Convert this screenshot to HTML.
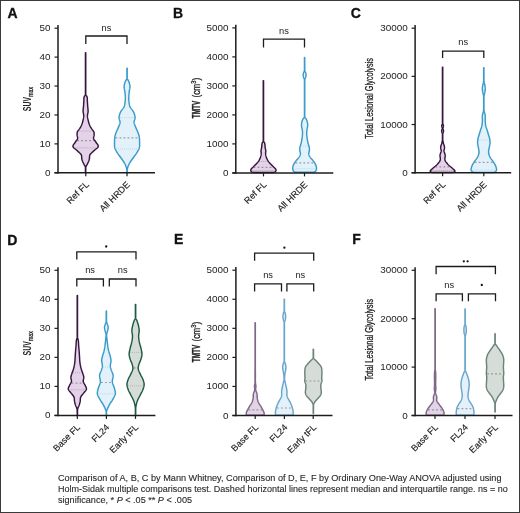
<!DOCTYPE html>
<html><head><meta charset="utf-8"><style>
html,body{margin:0;padding:0;background:#fff;}
svg{display:block;will-change:transform;}
text{font-family:"Liberation Sans",sans-serif;fill:#222;}
.tk{font-size:9.9px;}
.ns{font-size:9.3px;}
.st{font-size:9px;}
.xl{font-size:9.1px;stroke:#222;stroke-width:0.15px;}
.pl{font-size:14px;font-weight:bold;fill:#111;stroke:#111;stroke-width:0.3px;}
.yl{font-size:10px;stroke:#222;stroke-width:0.3px;}
.yl.b{font-weight:bold;}
.sub{font-size:7.5px;}
.sup{font-size:7px;}
.cap{font-size:9.1px;fill:#2b2b2b;stroke:#2b2b2b;stroke-width:0.12px;}
</style></head><body>
<svg width="520" height="513" viewBox="0 0 520 513">
<rect x="0" y="0" width="520" height="513" fill="#fff"/>
<path d="M85.75,52.80 L85.75,53.30 L85.75,53.79 L85.75,54.29 L85.75,54.78 L85.75,55.28 L85.75,55.77 L85.75,56.27 L85.75,56.76 L85.75,57.26 L85.75,57.75 L85.75,58.25 L85.75,58.74 L85.75,59.24 L85.75,59.73 L85.75,60.23 L85.75,60.72 L85.75,61.22 L85.75,61.71 L85.75,62.21 L85.75,62.70 L85.75,63.20 L85.75,63.70 L85.75,64.19 L85.75,64.69 L85.75,65.18 L85.75,65.68 L85.75,66.17 L85.75,66.67 L85.75,67.16 L85.75,67.66 L85.75,68.15 L85.75,68.65 L85.75,69.14 L85.75,69.64 L85.75,70.13 L85.75,70.63 L85.75,71.12 L85.75,71.62 L85.75,72.11 L85.75,72.61 L85.75,73.10 L85.75,73.60 L85.75,74.10 L85.75,74.59 L85.75,75.09 L85.75,75.58 L85.75,76.08 L85.75,76.57 L85.75,77.07 L85.75,77.56 L85.75,78.06 L85.75,78.55 L85.75,79.05 L85.75,79.54 L85.75,80.04 L85.75,80.53 L85.75,81.03 L85.75,81.52 L85.75,82.02 L85.75,82.51 L85.75,83.01 L85.75,83.50 L85.75,84.00 L85.75,84.50 L85.75,84.99 L85.75,85.49 L85.75,85.98 L85.75,86.48 L85.75,86.97 L85.75,87.47 L85.75,87.96 L85.75,88.46 L85.75,88.95 L85.75,89.45 L85.75,89.94 L85.75,90.44 L85.75,90.93 L85.75,91.43 L85.75,91.92 L85.75,92.42 L85.75,92.91 L85.75,93.41 L85.75,93.90 L85.75,94.40 L85.81,94.86 L86.12,95.32 L86.46,95.78 L86.78,96.24 L87.00,96.70 L87.14,97.19 L87.24,97.68 L87.29,98.17 L87.32,98.66 L87.33,99.14 L87.32,99.63 L87.32,100.12 L87.33,100.61 L87.35,101.10 L87.38,101.57 L87.42,102.05 L87.45,102.52 L87.48,102.99 L87.51,103.46 L87.54,103.94 L87.57,104.41 L87.60,104.88 L87.63,105.35 L87.67,105.83 L87.70,106.30 L87.74,106.77 L87.79,107.25 L87.84,107.72 L87.89,108.19 L87.94,108.66 L87.99,109.14 L88.04,109.61 L88.07,110.08 L88.10,110.55 L88.11,111.03 L88.10,111.50 L88.06,111.99 L88.00,112.48 L87.91,112.97 L87.80,113.46 L87.70,113.94 L87.60,114.43 L87.52,114.92 L87.47,115.41 L87.45,115.90 L87.47,116.40 L87.51,116.90 L87.57,117.40 L87.65,117.90 L87.75,118.40 L87.85,118.90 L87.97,119.40 L88.08,119.90 L88.20,120.40 L88.31,120.89 L88.43,121.38 L88.55,121.87 L88.68,122.36 L88.82,122.84 L88.97,123.33 L89.13,123.82 L89.31,124.31 L89.50,124.80 L89.69,125.25 L89.90,125.70 L90.12,126.15 L90.36,126.60 L90.60,127.05 L90.86,127.50 L91.13,127.95 L91.40,128.40 L91.73,128.89 L92.10,129.37 L92.50,129.86 L92.89,130.34 L93.25,130.83 L93.56,131.31 L93.80,131.80 L93.96,132.29 L94.06,132.77 L94.12,133.26 L94.14,133.74 L94.13,134.23 L94.12,134.71 L94.10,135.20 L94.05,135.69 L93.94,136.17 L93.80,136.66 L93.67,137.14 L93.57,137.63 L93.54,138.11 L93.60,138.60 L93.78,139.09 L94.05,139.57 L94.38,140.06 L94.75,140.54 L95.13,141.03 L95.49,141.51 L95.80,142.00 L96.10,142.48 L96.45,142.96 L96.81,143.44 L97.18,143.92 L97.52,144.40 L97.82,144.88 L98.06,145.36 L98.22,145.84 L98.27,146.32 L98.20,146.80 L97.95,147.29 L97.53,147.77 L96.98,148.26 L96.36,148.74 L95.70,149.23 L95.07,149.71 L94.50,150.20 L94.05,150.62 L93.60,151.04 L93.16,151.46 L92.73,151.88 L92.30,152.30 L91.80,152.78 L91.27,153.26 L90.77,153.74 L90.33,154.22 L90.00,154.70 L89.79,155.16 L89.66,155.61 L89.58,156.07 L89.54,156.52 L89.53,156.98 L89.53,157.43 L89.51,157.89 L89.48,158.34 L89.40,158.80 L89.28,159.28 L89.16,159.77 L89.01,160.25 L88.86,160.73 L88.69,161.22 L88.50,161.70 L88.29,162.18 L88.06,162.67 L87.81,163.15 L87.56,163.63 L87.30,164.12 L87.05,164.60 L86.78,165.08 L86.50,165.56 L86.22,166.04 L85.98,166.52 L85.80,167.00 L85.75,167.47 L85.75,167.95 L85.75,168.43 L85.75,168.90 L85.75,169.38 L85.75,169.85 L85.75,170.32 L85.75,170.80 L85.75,171.27 L85.75,171.75 L85.75,172.22 L85.75,172.70 L85.45,172.70 L85.45,172.22 L85.45,171.75 L85.45,171.27 L85.45,170.80 L85.45,170.32 L85.45,169.85 L85.45,169.38 L85.45,168.90 L85.45,168.43 L85.45,167.95 L85.45,167.47 L85.40,167.00 L85.22,166.52 L84.98,166.04 L84.70,165.56 L84.42,165.08 L84.15,164.60 L83.90,164.12 L83.64,163.63 L83.39,163.15 L83.14,162.67 L82.91,162.18 L82.70,161.70 L82.51,161.22 L82.34,160.73 L82.19,160.25 L82.04,159.77 L81.92,159.28 L81.80,158.80 L81.72,158.34 L81.69,157.89 L81.67,157.43 L81.67,156.98 L81.66,156.52 L81.62,156.07 L81.54,155.61 L81.41,155.16 L81.20,154.70 L80.87,154.22 L80.43,153.74 L79.93,153.26 L79.40,152.78 L78.90,152.30 L78.47,151.88 L78.04,151.46 L77.60,151.04 L77.15,150.62 L76.70,150.20 L76.13,149.71 L75.50,149.23 L74.84,148.74 L74.22,148.26 L73.67,147.77 L73.25,147.29 L73.00,146.80 L72.93,146.32 L72.98,145.84 L73.14,145.36 L73.38,144.88 L73.68,144.40 L74.02,143.92 L74.39,143.44 L74.75,142.96 L75.10,142.48 L75.40,142.00 L75.71,141.51 L76.07,141.03 L76.45,140.54 L76.82,140.06 L77.15,139.57 L77.42,139.09 L77.60,138.60 L77.66,138.11 L77.63,137.63 L77.53,137.14 L77.40,136.66 L77.26,136.17 L77.15,135.69 L77.10,135.20 L77.08,134.71 L77.07,134.23 L77.06,133.74 L77.08,133.26 L77.14,132.77 L77.24,132.29 L77.40,131.80 L77.64,131.31 L77.95,130.83 L78.31,130.34 L78.70,129.86 L79.10,129.37 L79.47,128.89 L79.80,128.40 L80.07,127.95 L80.34,127.50 L80.60,127.05 L80.84,126.60 L81.08,126.15 L81.30,125.70 L81.51,125.25 L81.70,124.80 L81.89,124.31 L82.07,123.82 L82.23,123.33 L82.38,122.84 L82.52,122.36 L82.65,121.87 L82.77,121.38 L82.89,120.89 L83.00,120.40 L83.12,119.90 L83.23,119.40 L83.35,118.90 L83.45,118.40 L83.55,117.90 L83.63,117.40 L83.69,116.90 L83.73,116.40 L83.75,115.90 L83.73,115.41 L83.68,114.92 L83.60,114.43 L83.50,113.94 L83.40,113.46 L83.29,112.97 L83.20,112.48 L83.14,111.99 L83.10,111.50 L83.09,111.03 L83.10,110.55 L83.13,110.08 L83.16,109.61 L83.21,109.14 L83.26,108.66 L83.31,108.19 L83.36,107.72 L83.41,107.25 L83.46,106.77 L83.50,106.30 L83.53,105.83 L83.57,105.35 L83.60,104.88 L83.63,104.41 L83.66,103.94 L83.69,103.46 L83.72,102.99 L83.75,102.52 L83.78,102.05 L83.82,101.57 L83.85,101.10 L83.87,100.61 L83.88,100.12 L83.88,99.63 L83.87,99.14 L83.88,98.66 L83.91,98.17 L83.96,97.68 L84.06,97.19 L84.20,96.70 L84.42,96.24 L84.74,95.78 L85.08,95.32 L85.39,94.86 L85.45,94.40 L85.45,93.90 L85.45,93.41 L85.45,92.91 L85.45,92.42 L85.45,91.92 L85.45,91.43 L85.45,90.93 L85.45,90.44 L85.45,89.94 L85.45,89.45 L85.45,88.95 L85.45,88.46 L85.45,87.96 L85.45,87.47 L85.45,86.97 L85.45,86.48 L85.45,85.98 L85.45,85.49 L85.45,84.99 L85.45,84.50 L85.45,84.00 L85.45,83.50 L85.45,83.01 L85.45,82.51 L85.45,82.02 L85.45,81.52 L85.45,81.03 L85.45,80.53 L85.45,80.04 L85.45,79.54 L85.45,79.05 L85.45,78.55 L85.45,78.06 L85.45,77.56 L85.45,77.07 L85.45,76.57 L85.45,76.08 L85.45,75.58 L85.45,75.09 L85.45,74.59 L85.45,74.10 L85.45,73.60 L85.45,73.10 L85.45,72.61 L85.45,72.11 L85.45,71.62 L85.45,71.12 L85.45,70.63 L85.45,70.13 L85.45,69.64 L85.45,69.14 L85.45,68.65 L85.45,68.15 L85.45,67.66 L85.45,67.16 L85.45,66.67 L85.45,66.17 L85.45,65.68 L85.45,65.18 L85.45,64.69 L85.45,64.19 L85.45,63.70 L85.45,63.20 L85.45,62.70 L85.45,62.21 L85.45,61.71 L85.45,61.22 L85.45,60.72 L85.45,60.23 L85.45,59.73 L85.45,59.24 L85.45,58.74 L85.45,58.25 L85.45,57.75 L85.45,57.26 L85.45,56.76 L85.45,56.27 L85.45,55.77 L85.45,55.28 L85.45,54.78 L85.45,54.29 L85.45,53.79 L85.45,53.30 L85.45,52.80 Z" fill="#e4d3e8" stroke="#371540" stroke-width="1.45" stroke-linejoin="round"/>
<line x1="78.58" y1="131.1" x2="92.62" y2="131.1" stroke="#371540" stroke-opacity="0.3" stroke-width="0.8" stroke-dasharray="1 1"/>
<line x1="77.21" y1="140.6" x2="93.99" y2="140.6" stroke="#666" stroke-opacity="0.6" stroke-width="1.2" stroke-dasharray="1.8 2.2"/>
<line x1="74.61" y1="147.9" x2="96.59" y2="147.9" stroke="#371540" stroke-opacity="0.3" stroke-width="0.8" stroke-dasharray="1 1"/>
<path d="M127.20,68.10 L127.20,68.60 L127.20,69.10 L127.20,69.60 L127.20,70.10 L127.20,70.60 L127.20,71.10 L127.20,71.60 L127.20,72.10 L127.20,72.60 L127.20,73.10 L127.20,73.60 L127.20,74.10 L127.20,74.60 L127.20,75.10 L127.20,75.60 L127.20,76.10 L127.20,76.60 L127.20,77.10 L127.20,77.60 L127.20,78.10 L127.20,78.56 L127.41,79.02 L127.66,79.49 L127.93,79.95 L128.20,80.41 L128.47,80.88 L128.71,81.34 L128.90,81.80 L129.06,82.27 L129.22,82.75 L129.36,83.22 L129.49,83.69 L129.61,84.16 L129.72,84.64 L129.81,85.11 L129.88,85.58 L129.94,86.05 L129.98,86.53 L130.00,87.00 L129.99,87.49 L129.94,87.98 L129.86,88.47 L129.76,88.96 L129.65,89.44 L129.54,89.93 L129.43,90.42 L129.33,90.91 L129.25,91.40 L129.19,91.86 L129.14,92.33 L129.09,92.79 L129.05,93.25 L129.01,93.71 L128.97,94.17 L128.93,94.64 L128.90,95.10 L128.86,95.58 L128.83,96.07 L128.80,96.55 L128.77,97.03 L128.75,97.52 L128.75,98.00 L128.76,98.49 L128.77,98.98 L128.79,99.47 L128.81,99.96 L128.84,100.44 L128.88,100.93 L128.93,101.42 L128.98,101.91 L129.05,102.40 L129.12,102.90 L129.18,103.40 L129.25,103.90 L129.33,104.40 L129.42,104.90 L129.53,105.40 L129.67,105.90 L129.84,106.40 L130.05,106.90 L130.31,107.39 L130.62,107.88 L130.98,108.37 L131.36,108.86 L131.75,109.34 L132.14,109.83 L132.52,110.32 L132.86,110.81 L133.15,111.30 L133.41,111.80 L133.65,112.30 L133.87,112.80 L134.08,113.30 L134.26,113.80 L134.43,114.30 L134.59,114.80 L134.73,115.30 L134.85,115.80 L134.94,116.24 L135.01,116.68 L135.05,117.12 L135.06,117.56 L135.05,118.00 L134.99,118.49 L134.87,118.98 L134.73,119.47 L134.57,119.96 L134.40,120.44 L134.25,120.93 L134.13,121.42 L134.06,121.91 L134.05,122.40 L134.10,122.90 L134.21,123.40 L134.35,123.90 L134.52,124.40 L134.71,124.90 L134.92,125.40 L135.14,125.90 L135.35,126.40 L135.55,126.90 L135.74,127.39 L135.95,127.88 L136.16,128.37 L136.38,128.86 L136.60,129.34 L136.83,129.83 L137.04,130.32 L137.25,130.81 L137.45,131.30 L137.65,131.80 L137.85,132.30 L138.05,132.80 L138.25,133.30 L138.44,133.80 L138.62,134.30 L138.78,134.80 L138.93,135.30 L139.05,135.80 L139.15,136.30 L139.24,136.80 L139.31,137.30 L139.38,137.80 L139.43,138.30 L139.47,138.80 L139.51,139.30 L139.54,139.80 L139.56,140.30 L139.57,140.80 L139.58,141.30 L139.59,141.80 L139.60,142.30 L139.60,142.80 L139.61,143.28 L139.62,143.76 L139.63,144.25 L139.63,144.73 L139.63,145.21 L139.62,145.69 L139.59,146.17 L139.54,146.65 L139.47,147.14 L139.38,147.62 L139.25,148.10 L139.08,148.60 L138.88,149.10 L138.65,149.60 L138.39,150.10 L138.11,150.60 L137.82,151.10 L137.52,151.60 L137.21,152.10 L136.90,152.60 L136.59,153.09 L136.27,153.58 L135.93,154.07 L135.59,154.56 L135.24,155.05 L134.88,155.55 L134.52,156.04 L134.16,156.53 L133.80,157.02 L133.45,157.51 L133.10,158.00 L132.74,158.50 L132.38,159.00 L132.01,159.50 L131.65,160.00 L131.28,160.50 L130.93,161.00 L130.58,161.50 L130.26,162.00 L129.95,162.50 L129.66,163.00 L129.39,163.50 L129.13,164.00 L128.89,164.50 L128.67,165.00 L128.45,165.50 L128.25,166.00 L128.08,166.45 L127.93,166.90 L127.78,167.35 L127.66,167.80 L127.55,168.25 L127.45,168.70 L127.36,169.20 L127.29,169.70 L127.24,170.20 L127.20,170.70 L127.20,171.20 L127.20,171.70 L127.20,172.20 L127.20,172.70 L126.90,172.70 L126.90,172.20 L126.90,171.70 L126.90,171.20 L126.90,170.70 L126.86,170.20 L126.81,169.70 L126.74,169.20 L126.65,168.70 L126.55,168.25 L126.44,167.80 L126.32,167.35 L126.17,166.90 L126.02,166.45 L125.85,166.00 L125.65,165.50 L125.43,165.00 L125.21,164.50 L124.97,164.00 L124.71,163.50 L124.44,163.00 L124.15,162.50 L123.84,162.00 L123.52,161.50 L123.17,161.00 L122.82,160.50 L122.45,160.00 L122.09,159.50 L121.72,159.00 L121.36,158.50 L121.00,158.00 L120.65,157.51 L120.30,157.02 L119.94,156.53 L119.58,156.04 L119.22,155.55 L118.86,155.05 L118.51,154.56 L118.17,154.07 L117.83,153.58 L117.51,153.09 L117.20,152.60 L116.89,152.10 L116.58,151.60 L116.28,151.10 L115.99,150.60 L115.71,150.10 L115.45,149.60 L115.22,149.10 L115.02,148.60 L114.85,148.10 L114.72,147.62 L114.63,147.14 L114.56,146.65 L114.51,146.17 L114.48,145.69 L114.47,145.21 L114.47,144.73 L114.47,144.25 L114.48,143.76 L114.49,143.28 L114.50,142.80 L114.50,142.30 L114.51,141.80 L114.52,141.30 L114.53,140.80 L114.54,140.30 L114.56,139.80 L114.59,139.30 L114.63,138.80 L114.67,138.30 L114.72,137.80 L114.79,137.30 L114.86,136.80 L114.95,136.30 L115.05,135.80 L115.17,135.30 L115.32,134.80 L115.48,134.30 L115.66,133.80 L115.85,133.30 L116.05,132.80 L116.25,132.30 L116.45,131.80 L116.65,131.30 L116.85,130.81 L117.06,130.32 L117.27,129.83 L117.50,129.34 L117.72,128.86 L117.94,128.37 L118.15,127.88 L118.36,127.39 L118.55,126.90 L118.75,126.40 L118.96,125.90 L119.18,125.40 L119.39,124.90 L119.58,124.40 L119.75,123.90 L119.89,123.40 L120.00,122.90 L120.05,122.40 L120.04,121.91 L119.97,121.42 L119.85,120.93 L119.70,120.44 L119.53,119.96 L119.37,119.47 L119.23,118.98 L119.11,118.49 L119.05,118.00 L119.04,117.56 L119.05,117.12 L119.09,116.68 L119.16,116.24 L119.25,115.80 L119.37,115.30 L119.51,114.80 L119.67,114.30 L119.84,113.80 L120.02,113.30 L120.23,112.80 L120.45,112.30 L120.69,111.80 L120.95,111.30 L121.24,110.81 L121.58,110.32 L121.96,109.83 L122.35,109.34 L122.74,108.86 L123.12,108.37 L123.48,107.88 L123.79,107.39 L124.05,106.90 L124.26,106.40 L124.43,105.90 L124.57,105.40 L124.68,104.90 L124.77,104.40 L124.85,103.90 L124.92,103.40 L124.98,102.90 L125.05,102.40 L125.12,101.91 L125.17,101.42 L125.22,100.93 L125.26,100.44 L125.29,99.96 L125.31,99.47 L125.33,98.98 L125.34,98.49 L125.35,98.00 L125.35,97.52 L125.33,97.03 L125.30,96.55 L125.27,96.07 L125.24,95.58 L125.20,95.10 L125.17,94.64 L125.13,94.17 L125.09,93.71 L125.05,93.25 L125.01,92.79 L124.96,92.33 L124.91,91.86 L124.85,91.40 L124.77,90.91 L124.67,90.42 L124.56,89.93 L124.45,89.44 L124.34,88.96 L124.24,88.47 L124.16,87.98 L124.11,87.49 L124.10,87.00 L124.12,86.53 L124.16,86.05 L124.22,85.58 L124.29,85.11 L124.38,84.64 L124.49,84.16 L124.61,83.69 L124.74,83.22 L124.88,82.75 L125.04,82.27 L125.20,81.80 L125.39,81.34 L125.63,80.88 L125.90,80.41 L126.17,79.95 L126.44,79.49 L126.69,79.02 L126.90,78.56 L126.90,78.10 L126.90,77.60 L126.90,77.10 L126.90,76.60 L126.90,76.10 L126.90,75.60 L126.90,75.10 L126.90,74.60 L126.90,74.10 L126.90,73.60 L126.90,73.10 L126.90,72.60 L126.90,72.10 L126.90,71.60 L126.90,71.10 L126.90,70.60 L126.90,70.10 L126.90,69.60 L126.90,69.10 L126.90,68.60 L126.90,68.10 Z" fill="#e2f1fa" stroke="#3a9ccb" stroke-width="1.45" stroke-linejoin="round"/>
<line x1="119.84" y1="117.6" x2="134.26" y2="117.6" stroke="#3a9ccb" stroke-opacity="0.3" stroke-width="0.8" stroke-dasharray="1 1"/>
<line x1="115.52" y1="137.8" x2="138.58" y2="137.8" stroke="#666" stroke-opacity="0.6" stroke-width="1.2" stroke-dasharray="1.8 2.2"/>
<line x1="115.98" y1="149" x2="138.12" y2="149" stroke="#3a9ccb" stroke-opacity="0.3" stroke-width="0.8" stroke-dasharray="1 1"/>
<path d="M263.55,80.60 L263.55,81.10 L263.55,81.60 L263.55,82.10 L263.55,82.60 L263.55,83.10 L263.55,83.60 L263.55,84.10 L263.55,84.60 L263.55,85.10 L263.55,85.60 L263.55,86.10 L263.55,86.60 L263.55,87.10 L263.55,87.60 L263.55,88.10 L263.55,88.60 L263.55,89.10 L263.55,89.60 L263.55,90.10 L263.55,90.60 L263.55,91.10 L263.55,91.60 L263.55,92.10 L263.55,92.60 L263.55,93.10 L263.55,93.60 L263.55,94.10 L263.55,94.60 L263.55,95.10 L263.55,95.60 L263.55,96.10 L263.55,96.60 L263.55,97.10 L263.55,97.60 L263.55,98.10 L263.55,98.60 L263.55,99.10 L263.55,99.60 L263.55,100.10 L263.55,100.60 L263.55,101.10 L263.55,101.60 L263.55,102.10 L263.55,102.60 L263.55,103.10 L263.55,103.60 L263.55,104.10 L263.55,104.60 L263.55,105.10 L263.55,105.60 L263.55,106.10 L263.55,106.60 L263.55,107.10 L263.55,107.60 L263.55,108.10 L263.55,108.60 L263.55,109.10 L263.55,109.60 L263.55,110.10 L263.55,110.60 L263.55,111.10 L263.55,111.60 L263.55,112.10 L263.55,112.60 L263.55,113.10 L263.55,113.60 L263.55,114.10 L263.55,114.60 L263.55,115.10 L263.55,115.60 L263.55,116.10 L263.55,116.60 L263.55,117.10 L263.55,117.60 L263.55,118.10 L263.55,118.60 L263.55,119.10 L263.55,119.60 L263.55,120.10 L263.55,120.60 L263.55,121.10 L263.55,121.60 L263.55,122.10 L263.55,122.60 L263.55,123.10 L263.55,123.60 L263.55,124.10 L263.55,124.60 L263.55,125.10 L263.55,125.60 L263.55,126.10 L263.55,126.60 L263.55,127.10 L263.55,127.60 L263.55,128.10 L263.55,128.60 L263.55,129.10 L263.55,129.60 L263.55,130.10 L263.55,130.60 L263.55,131.10 L263.55,131.60 L263.55,132.10 L263.55,132.60 L263.55,133.10 L263.55,133.60 L263.55,134.10 L263.55,134.60 L263.55,135.10 L263.55,135.60 L263.55,136.10 L263.55,136.60 L263.55,137.10 L263.55,137.60 L263.55,138.10 L263.55,138.60 L263.55,139.10 L263.55,139.60 L263.55,140.10 L263.55,140.60 L263.58,141.08 L263.84,141.56 L264.13,142.04 L264.40,142.52 L264.60,143.00 L264.73,143.48 L264.83,143.96 L264.90,144.44 L264.96,144.92 L264.99,145.40 L265.02,145.88 L265.05,146.36 L265.09,146.84 L265.14,147.32 L265.20,147.80 L265.28,148.26 L265.38,148.71 L265.49,149.17 L265.59,149.63 L265.69,150.09 L265.76,150.54 L265.80,151.00 L265.79,151.48 L265.73,151.96 L265.66,152.44 L265.61,152.92 L265.60,153.40 L265.64,153.90 L265.69,154.40 L265.76,154.90 L265.85,155.40 L265.96,155.90 L266.09,156.40 L266.23,156.90 L266.40,157.40 L266.58,157.90 L266.78,158.40 L267.00,158.90 L267.23,159.40 L267.49,159.90 L267.77,160.40 L268.07,160.90 L268.40,161.40 L268.73,161.86 L269.10,162.31 L269.50,162.77 L269.91,163.23 L270.34,163.69 L270.77,164.14 L271.20,164.60 L271.66,165.08 L272.14,165.56 L272.63,166.04 L273.12,166.52 L273.60,167.00 L274.14,167.50 L274.69,168.00 L275.21,168.50 L275.60,169.00 L275.82,169.40 L275.97,169.80 L276.03,170.20 L276.00,170.60 L275.88,171.00 L275.64,171.40 L275.20,171.80 L274.61,172.10 L273.90,172.40 L252.90,172.40 L252.19,172.10 L251.60,171.80 L251.16,171.40 L250.92,171.00 L250.80,170.60 L250.77,170.20 L250.83,169.80 L250.98,169.40 L251.20,169.00 L251.59,168.50 L252.11,168.00 L252.66,167.50 L253.20,167.00 L253.68,166.52 L254.17,166.04 L254.66,165.56 L255.14,165.08 L255.60,164.60 L256.03,164.14 L256.46,163.69 L256.89,163.23 L257.30,162.77 L257.70,162.31 L258.07,161.86 L258.40,161.40 L258.73,160.90 L259.03,160.40 L259.31,159.90 L259.57,159.40 L259.80,158.90 L260.02,158.40 L260.22,157.90 L260.40,157.40 L260.57,156.90 L260.71,156.40 L260.84,155.90 L260.95,155.40 L261.04,154.90 L261.11,154.40 L261.16,153.90 L261.20,153.40 L261.19,152.92 L261.14,152.44 L261.07,151.96 L261.01,151.48 L261.00,151.00 L261.04,150.54 L261.11,150.09 L261.21,149.63 L261.31,149.17 L261.42,148.71 L261.52,148.26 L261.60,147.80 L261.66,147.32 L261.71,146.84 L261.75,146.36 L261.78,145.88 L261.81,145.40 L261.84,144.92 L261.90,144.44 L261.97,143.96 L262.07,143.48 L262.20,143.00 L262.40,142.52 L262.67,142.04 L262.96,141.56 L263.22,141.08 L263.25,140.60 L263.25,140.10 L263.25,139.60 L263.25,139.10 L263.25,138.60 L263.25,138.10 L263.25,137.60 L263.25,137.10 L263.25,136.60 L263.25,136.10 L263.25,135.60 L263.25,135.10 L263.25,134.60 L263.25,134.10 L263.25,133.60 L263.25,133.10 L263.25,132.60 L263.25,132.10 L263.25,131.60 L263.25,131.10 L263.25,130.60 L263.25,130.10 L263.25,129.60 L263.25,129.10 L263.25,128.60 L263.25,128.10 L263.25,127.60 L263.25,127.10 L263.25,126.60 L263.25,126.10 L263.25,125.60 L263.25,125.10 L263.25,124.60 L263.25,124.10 L263.25,123.60 L263.25,123.10 L263.25,122.60 L263.25,122.10 L263.25,121.60 L263.25,121.10 L263.25,120.60 L263.25,120.10 L263.25,119.60 L263.25,119.10 L263.25,118.60 L263.25,118.10 L263.25,117.60 L263.25,117.10 L263.25,116.60 L263.25,116.10 L263.25,115.60 L263.25,115.10 L263.25,114.60 L263.25,114.10 L263.25,113.60 L263.25,113.10 L263.25,112.60 L263.25,112.10 L263.25,111.60 L263.25,111.10 L263.25,110.60 L263.25,110.10 L263.25,109.60 L263.25,109.10 L263.25,108.60 L263.25,108.10 L263.25,107.60 L263.25,107.10 L263.25,106.60 L263.25,106.10 L263.25,105.60 L263.25,105.10 L263.25,104.60 L263.25,104.10 L263.25,103.60 L263.25,103.10 L263.25,102.60 L263.25,102.10 L263.25,101.60 L263.25,101.10 L263.25,100.60 L263.25,100.10 L263.25,99.60 L263.25,99.10 L263.25,98.60 L263.25,98.10 L263.25,97.60 L263.25,97.10 L263.25,96.60 L263.25,96.10 L263.25,95.60 L263.25,95.10 L263.25,94.60 L263.25,94.10 L263.25,93.60 L263.25,93.10 L263.25,92.60 L263.25,92.10 L263.25,91.60 L263.25,91.10 L263.25,90.60 L263.25,90.10 L263.25,89.60 L263.25,89.10 L263.25,88.60 L263.25,88.10 L263.25,87.60 L263.25,87.10 L263.25,86.60 L263.25,86.10 L263.25,85.60 L263.25,85.10 L263.25,84.60 L263.25,84.10 L263.25,83.60 L263.25,83.10 L263.25,82.60 L263.25,82.10 L263.25,81.60 L263.25,81.10 L263.25,80.60 Z" fill="#e4d3e8" stroke="#371540" stroke-width="1.45" stroke-linejoin="round"/>
<line x1="259.13" y1="161.5" x2="267.67" y2="161.5" stroke="#371540" stroke-opacity="0.3" stroke-width="0.8" stroke-dasharray="1 1"/>
<line x1="253.57" y1="167.4" x2="273.23" y2="167.4" stroke="#666" stroke-opacity="0.6" stroke-width="1.2" stroke-dasharray="1.8 2.2"/>
<line x1="251.60" y1="170.6" x2="275.20" y2="170.6" stroke="#371540" stroke-opacity="0.3" stroke-width="0.8" stroke-dasharray="1 1"/>
<path d="M304.75,57.40 L304.75,57.88 L304.75,58.36 L304.75,58.84 L304.75,59.33 L304.75,59.81 L304.75,60.29 L304.75,60.77 L304.75,61.25 L304.75,61.73 L304.75,62.21 L304.75,62.70 L304.75,63.18 L304.75,63.66 L304.75,64.14 L304.75,64.62 L304.75,65.10 L304.75,65.59 L304.75,66.07 L304.75,66.55 L304.75,67.03 L304.75,67.51 L304.75,67.99 L304.75,68.47 L304.75,68.96 L304.75,69.44 L304.75,69.92 L304.75,70.40 L304.75,70.82 L304.96,71.24 L305.20,71.66 L305.43,72.08 L305.60,72.50 L305.72,72.93 L305.83,73.37 L305.90,73.80 L305.96,74.23 L305.99,74.67 L306.00,75.10 L305.98,75.58 L305.92,76.06 L305.84,76.54 L305.73,77.02 L305.60,77.50 L305.42,77.98 L305.20,78.46 L304.96,78.94 L304.75,79.42 L304.75,79.90 L304.75,80.40 L304.75,80.90 L304.75,81.40 L304.75,81.89 L304.75,82.39 L304.75,82.89 L304.75,83.39 L304.75,83.89 L304.75,84.39 L304.75,84.89 L304.75,85.39 L304.75,85.88 L304.75,86.38 L304.75,86.88 L304.75,87.38 L304.75,87.88 L304.75,88.38 L304.75,88.88 L304.75,89.37 L304.75,89.87 L304.75,90.37 L304.75,90.87 L304.75,91.37 L304.75,91.87 L304.75,92.37 L304.75,92.86 L304.75,93.36 L304.75,93.86 L304.75,94.36 L304.75,94.86 L304.75,95.36 L304.75,95.86 L304.75,96.36 L304.75,96.85 L304.75,97.35 L304.75,97.85 L304.75,98.35 L304.75,98.85 L304.75,99.35 L304.75,99.85 L304.75,100.34 L304.75,100.84 L304.75,101.34 L304.75,101.84 L304.75,102.34 L304.75,102.84 L304.75,103.34 L304.75,103.84 L304.75,104.33 L304.75,104.83 L304.75,105.33 L304.75,105.83 L304.75,106.33 L304.75,106.83 L304.75,107.33 L304.75,107.82 L304.75,108.32 L304.75,108.82 L304.75,109.32 L304.75,109.82 L304.75,110.32 L304.75,110.82 L304.75,111.31 L304.75,111.81 L304.75,112.31 L304.75,112.81 L304.75,113.31 L304.75,113.81 L304.75,114.31 L304.75,114.81 L304.75,115.30 L304.75,115.80 L304.75,116.30 L304.75,116.80 L304.82,117.22 L305.14,117.65 L305.49,118.08 L305.80,118.50 L306.08,118.92 L306.35,119.35 L306.60,119.78 L306.80,120.20 L306.98,120.67 L307.12,121.13 L307.24,121.60 L307.34,122.07 L307.42,122.53 L307.50,123.00 L307.57,123.45 L307.63,123.90 L307.67,124.35 L307.70,124.80 L307.71,125.25 L307.70,125.70 L307.66,126.12 L307.58,126.54 L307.49,126.96 L307.39,127.38 L307.30,127.80 L307.22,128.20 L307.13,128.60 L307.04,129.00 L306.96,129.40 L306.90,129.80 L306.85,130.26 L306.80,130.71 L306.76,131.17 L306.73,131.62 L306.71,132.08 L306.70,132.53 L306.69,132.99 L306.69,133.44 L306.70,133.90 L306.72,134.37 L306.75,134.84 L306.78,135.31 L306.83,135.78 L306.88,136.25 L306.93,136.72 L306.99,137.19 L307.06,137.66 L307.13,138.13 L307.20,138.60 L307.28,139.10 L307.36,139.60 L307.45,140.10 L307.54,140.60 L307.63,141.10 L307.73,141.60 L307.83,142.10 L307.94,142.60 L308.06,143.10 L308.18,143.60 L308.30,144.10 L308.44,144.58 L308.60,145.07 L308.78,145.55 L308.94,146.03 L309.09,146.52 L309.20,147.00 L309.28,147.50 L309.35,148.00 L309.39,148.50 L309.42,149.00 L309.43,149.50 L309.42,150.00 L309.40,150.50 L309.34,151.00 L309.22,151.50 L309.09,152.00 L308.95,152.50 L308.84,153.00 L308.78,153.50 L308.80,154.00 L308.88,154.45 L309.01,154.90 L309.17,155.35 L309.37,155.80 L309.59,156.25 L309.84,156.70 L310.11,157.15 L310.40,157.60 L310.76,158.10 L311.18,158.60 L311.63,159.10 L312.09,159.60 L312.56,160.10 L313.00,160.60 L313.40,161.10 L313.77,161.60 L314.12,162.10 L314.47,162.60 L314.79,163.10 L315.09,163.60 L315.36,164.10 L315.60,164.60 L315.81,165.10 L316.00,165.60 L316.17,166.10 L316.31,166.60 L316.41,167.10 L316.48,167.60 L316.50,168.10 L316.50,168.57 L316.47,169.03 L316.41,169.50 L316.29,169.97 L316.09,170.43 L315.80,170.90 L315.33,171.37 L314.72,171.83 L314.10,172.30 L295.10,172.30 L294.48,171.83 L293.87,171.37 L293.40,170.90 L293.11,170.43 L292.91,169.97 L292.79,169.50 L292.73,169.03 L292.70,168.57 L292.70,168.10 L292.72,167.60 L292.79,167.10 L292.89,166.60 L293.03,166.10 L293.20,165.60 L293.39,165.10 L293.60,164.60 L293.84,164.10 L294.11,163.60 L294.41,163.10 L294.73,162.60 L295.08,162.10 L295.43,161.60 L295.80,161.10 L296.20,160.60 L296.64,160.10 L297.11,159.60 L297.57,159.10 L298.02,158.60 L298.44,158.10 L298.80,157.60 L299.09,157.15 L299.36,156.70 L299.61,156.25 L299.83,155.80 L300.03,155.35 L300.19,154.90 L300.32,154.45 L300.40,154.00 L300.42,153.50 L300.36,153.00 L300.25,152.50 L300.11,152.00 L299.98,151.50 L299.86,151.00 L299.80,150.50 L299.78,150.00 L299.77,149.50 L299.78,149.00 L299.81,148.50 L299.85,148.00 L299.92,147.50 L300.00,147.00 L300.11,146.52 L300.26,146.03 L300.42,145.55 L300.60,145.07 L300.76,144.58 L300.90,144.10 L301.02,143.60 L301.14,143.10 L301.26,142.60 L301.37,142.10 L301.47,141.60 L301.57,141.10 L301.66,140.60 L301.75,140.10 L301.84,139.60 L301.92,139.10 L302.00,138.60 L302.07,138.13 L302.14,137.66 L302.21,137.19 L302.27,136.72 L302.32,136.25 L302.37,135.78 L302.42,135.31 L302.45,134.84 L302.48,134.37 L302.50,133.90 L302.51,133.44 L302.51,132.99 L302.50,132.53 L302.49,132.08 L302.47,131.62 L302.44,131.17 L302.40,130.71 L302.35,130.26 L302.30,129.80 L302.24,129.40 L302.16,129.00 L302.07,128.60 L301.98,128.20 L301.90,127.80 L301.81,127.38 L301.71,126.96 L301.62,126.54 L301.54,126.12 L301.50,125.70 L301.49,125.25 L301.50,124.80 L301.53,124.35 L301.57,123.90 L301.63,123.45 L301.70,123.00 L301.78,122.53 L301.86,122.07 L301.96,121.60 L302.08,121.13 L302.22,120.67 L302.40,120.20 L302.60,119.78 L302.85,119.35 L303.12,118.92 L303.40,118.50 L303.71,118.08 L304.06,117.65 L304.38,117.22 L304.45,116.80 L304.45,116.30 L304.45,115.80 L304.45,115.30 L304.45,114.81 L304.45,114.31 L304.45,113.81 L304.45,113.31 L304.45,112.81 L304.45,112.31 L304.45,111.81 L304.45,111.31 L304.45,110.82 L304.45,110.32 L304.45,109.82 L304.45,109.32 L304.45,108.82 L304.45,108.32 L304.45,107.82 L304.45,107.33 L304.45,106.83 L304.45,106.33 L304.45,105.83 L304.45,105.33 L304.45,104.83 L304.45,104.33 L304.45,103.84 L304.45,103.34 L304.45,102.84 L304.45,102.34 L304.45,101.84 L304.45,101.34 L304.45,100.84 L304.45,100.34 L304.45,99.85 L304.45,99.35 L304.45,98.85 L304.45,98.35 L304.45,97.85 L304.45,97.35 L304.45,96.85 L304.45,96.36 L304.45,95.86 L304.45,95.36 L304.45,94.86 L304.45,94.36 L304.45,93.86 L304.45,93.36 L304.45,92.86 L304.45,92.37 L304.45,91.87 L304.45,91.37 L304.45,90.87 L304.45,90.37 L304.45,89.87 L304.45,89.37 L304.45,88.88 L304.45,88.38 L304.45,87.88 L304.45,87.38 L304.45,86.88 L304.45,86.38 L304.45,85.88 L304.45,85.39 L304.45,84.89 L304.45,84.39 L304.45,83.89 L304.45,83.39 L304.45,82.89 L304.45,82.39 L304.45,81.89 L304.45,81.40 L304.45,80.90 L304.45,80.40 L304.45,79.90 L304.45,79.42 L304.24,78.94 L304.00,78.46 L303.78,77.98 L303.60,77.50 L303.47,77.02 L303.36,76.54 L303.28,76.06 L303.22,75.58 L303.20,75.10 L303.21,74.67 L303.24,74.23 L303.30,73.80 L303.37,73.37 L303.48,72.93 L303.60,72.50 L303.77,72.08 L304.00,71.66 L304.24,71.24 L304.45,70.82 L304.45,70.40 L304.45,69.92 L304.45,69.44 L304.45,68.96 L304.45,68.47 L304.45,67.99 L304.45,67.51 L304.45,67.03 L304.45,66.55 L304.45,66.07 L304.45,65.59 L304.45,65.10 L304.45,64.62 L304.45,64.14 L304.45,63.66 L304.45,63.18 L304.45,62.70 L304.45,62.21 L304.45,61.73 L304.45,61.25 L304.45,60.77 L304.45,60.29 L304.45,59.81 L304.45,59.33 L304.45,58.84 L304.45,58.36 L304.45,57.88 L304.45,57.40 Z" fill="#e2f1fa" stroke="#3a9ccb" stroke-width="1.45" stroke-linejoin="round"/>
<line x1="301.07" y1="146" x2="308.13" y2="146" stroke="#3a9ccb" stroke-opacity="0.3" stroke-width="0.8" stroke-dasharray="1 1"/>
<line x1="295.40" y1="162.8" x2="313.80" y2="162.8" stroke="#666" stroke-opacity="0.6" stroke-width="1.2" stroke-dasharray="1.8 2.2"/>
<line x1="293.52" y1="168.8" x2="315.68" y2="168.8" stroke="#3a9ccb" stroke-opacity="0.3" stroke-width="0.8" stroke-dasharray="1 1"/>
<path d="M442.75,67.20 L442.75,67.70 L442.75,68.20 L442.75,68.70 L442.75,69.20 L442.75,69.70 L442.75,70.19 L442.75,70.69 L442.75,71.19 L442.75,71.69 L442.75,72.19 L442.75,72.69 L442.75,73.19 L442.75,73.69 L442.75,74.19 L442.75,74.69 L442.75,75.19 L442.75,75.68 L442.75,76.18 L442.75,76.68 L442.75,77.18 L442.75,77.68 L442.75,78.18 L442.75,78.68 L442.75,79.18 L442.75,79.68 L442.75,80.18 L442.75,80.68 L442.75,81.18 L442.75,81.67 L442.75,82.17 L442.75,82.67 L442.75,83.17 L442.75,83.67 L442.75,84.17 L442.75,84.67 L442.75,85.17 L442.75,85.67 L442.75,86.17 L442.75,86.67 L442.75,87.16 L442.75,87.66 L442.75,88.16 L442.75,88.66 L442.75,89.16 L442.75,89.66 L442.75,90.16 L442.75,90.66 L442.75,91.16 L442.75,91.66 L442.75,92.16 L442.75,92.65 L442.75,93.15 L442.75,93.65 L442.75,94.15 L442.75,94.65 L442.75,95.15 L442.75,95.65 L442.75,96.15 L442.75,96.65 L442.75,97.15 L442.75,97.65 L442.75,98.15 L442.75,98.64 L442.75,99.14 L442.75,99.64 L442.75,100.14 L442.75,100.64 L442.75,101.14 L442.75,101.64 L442.75,102.14 L442.75,102.64 L442.75,103.14 L442.75,103.64 L442.75,104.13 L442.75,104.63 L442.75,105.13 L442.75,105.63 L442.75,106.13 L442.75,106.63 L442.75,107.13 L442.75,107.63 L442.75,108.13 L442.75,108.63 L442.75,109.13 L442.75,109.62 L442.75,110.12 L442.75,110.62 L442.75,111.12 L442.75,111.62 L442.75,112.12 L442.75,112.62 L442.75,113.12 L442.75,113.62 L442.75,114.12 L442.75,114.62 L442.75,115.12 L442.75,115.61 L442.75,116.11 L442.75,116.61 L442.75,117.11 L442.75,117.61 L442.75,118.11 L442.75,118.61 L442.75,119.11 L442.75,119.61 L442.75,120.11 L442.75,120.61 L442.75,121.10 L442.75,121.60 L442.75,122.10 L442.75,122.60 L442.75,123.10 L442.75,123.60 L442.77,124.00 L443.00,124.40 L443.20,124.80 L443.34,125.20 L443.46,125.60 L443.50,126.00 L443.45,126.40 L443.33,126.80 L443.20,127.20 L443.04,127.63 L442.87,128.07 L442.80,128.50 L442.91,128.90 L443.12,129.30 L443.30,129.70 L443.44,130.13 L443.55,130.57 L443.60,131.00 L443.55,131.43 L443.44,131.87 L443.30,132.30 L443.13,132.70 L442.94,133.10 L442.80,133.50 L442.75,134.00 L442.75,134.50 L442.75,135.00 L442.75,135.50 L442.75,136.00 L442.75,136.50 L442.75,137.00 L442.75,137.50 L442.75,138.00 L442.75,138.50 L442.75,139.00 L442.75,139.50 L442.78,140.00 L442.84,140.50 L442.90,141.00 L442.98,141.50 L443.09,142.00 L443.22,142.50 L443.36,143.00 L443.50,143.50 L443.63,143.94 L443.78,144.38 L443.93,144.82 L444.08,145.26 L444.20,145.70 L444.32,146.20 L444.44,146.70 L444.52,147.20 L444.55,147.70 L444.51,148.15 L444.41,148.60 L444.30,149.05 L444.20,149.50 L444.11,149.93 L444.02,150.35 L443.95,150.77 L443.95,151.20 L444.04,151.62 L444.19,152.04 L444.37,152.46 L444.55,152.88 L444.70,153.30 L444.83,153.72 L444.95,154.14 L445.06,154.56 L445.15,154.98 L445.20,155.40 L445.19,155.88 L445.14,156.35 L445.06,156.83 L445.00,157.30 L444.96,157.73 L444.92,158.15 L444.90,158.57 L444.90,159.00 L444.92,159.45 L444.96,159.90 L445.04,160.35 L445.20,160.80 L445.44,161.24 L445.74,161.68 L446.08,162.12 L446.44,162.56 L446.80,163.00 L447.17,163.46 L447.54,163.92 L447.93,164.38 L448.35,164.84 L448.80,165.30 L449.36,165.80 L449.96,166.30 L450.59,166.80 L451.20,167.30 L451.77,167.78 L452.34,168.25 L452.89,168.72 L453.40,169.20 L453.86,169.62 L454.32,170.05 L454.70,170.47 L454.90,170.90 L454.96,171.27 L454.85,171.63 L454.40,172.00 L453.82,172.20 L453.10,172.40 L432.10,172.40 L431.38,172.20 L430.80,172.00 L430.35,171.63 L430.24,171.27 L430.30,170.90 L430.50,170.47 L430.88,170.05 L431.34,169.62 L431.80,169.20 L432.31,168.72 L432.86,168.25 L433.43,167.78 L434.00,167.30 L434.61,166.80 L435.24,166.30 L435.84,165.80 L436.40,165.30 L436.85,164.84 L437.27,164.38 L437.66,163.92 L438.03,163.46 L438.40,163.00 L438.76,162.56 L439.12,162.12 L439.46,161.68 L439.76,161.24 L440.00,160.80 L440.16,160.35 L440.24,159.90 L440.28,159.45 L440.30,159.00 L440.30,158.57 L440.28,158.15 L440.24,157.73 L440.20,157.30 L440.14,156.83 L440.06,156.35 L440.01,155.88 L440.00,155.40 L440.05,154.98 L440.14,154.56 L440.25,154.14 L440.37,153.72 L440.50,153.30 L440.65,152.88 L440.83,152.46 L441.01,152.04 L441.16,151.62 L441.25,151.20 L441.25,150.77 L441.18,150.35 L441.09,149.93 L441.00,149.50 L440.90,149.05 L440.79,148.60 L440.69,148.15 L440.65,147.70 L440.68,147.20 L440.76,146.70 L440.88,146.20 L441.00,145.70 L441.12,145.26 L441.27,144.82 L441.42,144.38 L441.57,143.94 L441.70,143.50 L441.84,143.00 L441.98,142.50 L442.11,142.00 L442.22,141.50 L442.30,141.00 L442.36,140.50 L442.42,140.00 L442.45,139.50 L442.45,139.00 L442.45,138.50 L442.45,138.00 L442.45,137.50 L442.45,137.00 L442.45,136.50 L442.45,136.00 L442.45,135.50 L442.45,135.00 L442.45,134.50 L442.45,134.00 L442.40,133.50 L442.26,133.10 L442.07,132.70 L441.90,132.30 L441.76,131.87 L441.65,131.43 L441.60,131.00 L441.65,130.57 L441.76,130.13 L441.90,129.70 L442.08,129.30 L442.29,128.90 L442.40,128.50 L442.33,128.07 L442.16,127.63 L442.00,127.20 L441.87,126.80 L441.75,126.40 L441.70,126.00 L441.74,125.60 L441.86,125.20 L442.00,124.80 L442.20,124.40 L442.43,124.00 L442.45,123.60 L442.45,123.10 L442.45,122.60 L442.45,122.10 L442.45,121.60 L442.45,121.10 L442.45,120.61 L442.45,120.11 L442.45,119.61 L442.45,119.11 L442.45,118.61 L442.45,118.11 L442.45,117.61 L442.45,117.11 L442.45,116.61 L442.45,116.11 L442.45,115.61 L442.45,115.12 L442.45,114.62 L442.45,114.12 L442.45,113.62 L442.45,113.12 L442.45,112.62 L442.45,112.12 L442.45,111.62 L442.45,111.12 L442.45,110.62 L442.45,110.12 L442.45,109.62 L442.45,109.13 L442.45,108.63 L442.45,108.13 L442.45,107.63 L442.45,107.13 L442.45,106.63 L442.45,106.13 L442.45,105.63 L442.45,105.13 L442.45,104.63 L442.45,104.13 L442.45,103.64 L442.45,103.14 L442.45,102.64 L442.45,102.14 L442.45,101.64 L442.45,101.14 L442.45,100.64 L442.45,100.14 L442.45,99.64 L442.45,99.14 L442.45,98.64 L442.45,98.15 L442.45,97.65 L442.45,97.15 L442.45,96.65 L442.45,96.15 L442.45,95.65 L442.45,95.15 L442.45,94.65 L442.45,94.15 L442.45,93.65 L442.45,93.15 L442.45,92.65 L442.45,92.16 L442.45,91.66 L442.45,91.16 L442.45,90.66 L442.45,90.16 L442.45,89.66 L442.45,89.16 L442.45,88.66 L442.45,88.16 L442.45,87.66 L442.45,87.16 L442.45,86.67 L442.45,86.17 L442.45,85.67 L442.45,85.17 L442.45,84.67 L442.45,84.17 L442.45,83.67 L442.45,83.17 L442.45,82.67 L442.45,82.17 L442.45,81.67 L442.45,81.18 L442.45,80.68 L442.45,80.18 L442.45,79.68 L442.45,79.18 L442.45,78.68 L442.45,78.18 L442.45,77.68 L442.45,77.18 L442.45,76.68 L442.45,76.18 L442.45,75.68 L442.45,75.19 L442.45,74.69 L442.45,74.19 L442.45,73.69 L442.45,73.19 L442.45,72.69 L442.45,72.19 L442.45,71.69 L442.45,71.19 L442.45,70.69 L442.45,70.19 L442.45,69.70 L442.45,69.20 L442.45,68.70 L442.45,68.20 L442.45,67.70 L442.45,67.20 Z" fill="#e4d3e8" stroke="#371540" stroke-width="1.45" stroke-linejoin="round"/>
<line x1="435.41" y1="166.8" x2="449.79" y2="166.8" stroke="#666" stroke-opacity="0.6" stroke-width="1.2" stroke-dasharray="1.8 2.2"/>
<line x1="431.29" y1="170.5" x2="453.91" y2="170.5" stroke="#371540" stroke-opacity="0.3" stroke-width="0.8" stroke-dasharray="1 1"/>
<path d="M483.95,67.60 L483.95,68.08 L483.95,68.57 L483.95,69.05 L483.95,69.54 L483.95,70.02 L483.95,70.51 L483.95,70.99 L483.95,71.47 L483.95,71.96 L483.95,72.44 L483.95,72.93 L483.95,73.41 L483.95,73.89 L483.95,74.38 L483.95,74.86 L483.95,75.35 L483.95,75.83 L483.95,76.32 L483.95,76.80 L483.95,77.27 L483.95,77.75 L483.95,78.22 L483.95,78.69 L483.95,79.16 L483.95,79.64 L483.95,80.11 L483.95,80.58 L483.99,81.05 L484.04,81.53 L484.10,82.00 L484.19,82.50 L484.30,83.00 L484.43,83.50 L484.56,84.00 L484.69,84.50 L484.81,85.00 L484.90,85.50 L484.98,85.99 L485.05,86.47 L485.11,86.96 L485.17,87.45 L485.21,87.94 L485.24,88.43 L485.25,88.91 L485.25,89.40 L485.23,89.84 L485.18,90.29 L485.13,90.73 L485.05,91.17 L484.97,91.61 L484.89,92.06 L484.80,92.50 L484.69,92.97 L484.56,93.43 L484.42,93.90 L484.29,94.37 L484.18,94.83 L484.10,95.30 L484.04,95.80 L483.98,96.30 L483.95,96.80 L483.95,97.30 L483.95,97.80 L483.95,98.30 L483.95,98.80 L483.95,99.30 L483.95,99.80 L483.95,100.30 L483.95,100.80 L483.95,101.30 L483.95,101.80 L483.95,102.30 L483.95,102.80 L483.95,103.30 L483.95,103.80 L483.95,104.30 L483.95,104.80 L483.95,105.30 L483.95,105.80 L483.95,106.30 L483.95,106.80 L483.95,107.30 L483.95,107.80 L483.95,108.30 L483.95,108.80 L483.95,109.30 L483.98,109.80 L484.04,110.30 L484.10,110.80 L484.18,111.29 L484.29,111.78 L484.43,112.27 L484.57,112.76 L484.73,113.24 L484.87,113.73 L485.01,114.22 L485.12,114.71 L485.20,115.20 L485.25,115.67 L485.27,116.15 L485.28,116.62 L485.28,117.09 L485.26,117.56 L485.24,118.04 L485.22,118.51 L485.20,118.98 L485.19,119.45 L485.19,119.93 L485.20,120.40 L485.22,120.88 L485.24,121.36 L485.27,121.85 L485.30,122.33 L485.33,122.81 L485.36,123.29 L485.41,123.77 L485.46,124.25 L485.53,124.74 L485.61,125.22 L485.70,125.70 L485.81,126.19 L485.95,126.68 L486.10,127.17 L486.26,127.66 L486.43,128.14 L486.60,128.63 L486.78,129.12 L486.94,129.61 L487.10,130.10 L487.25,130.59 L487.40,131.08 L487.54,131.57 L487.69,132.06 L487.83,132.54 L487.97,133.03 L488.11,133.52 L488.26,134.01 L488.40,134.50 L488.55,135.00 L488.71,135.50 L488.87,136.00 L489.03,136.50 L489.19,137.00 L489.34,137.50 L489.48,138.00 L489.60,138.50 L489.70,139.00 L489.79,139.50 L489.86,140.00 L489.92,140.50 L489.96,141.00 L490.00,141.50 L490.01,142.00 L490.01,142.50 L490.00,143.00 L489.97,143.48 L489.91,143.96 L489.84,144.44 L489.75,144.92 L489.66,145.40 L489.56,145.88 L489.46,146.36 L489.37,146.84 L489.28,147.32 L489.20,147.80 L489.12,148.28 L489.03,148.76 L488.94,149.24 L488.84,149.72 L488.75,150.20 L488.67,150.68 L488.61,151.16 L488.58,151.64 L488.57,152.12 L488.60,152.60 L488.66,153.08 L488.75,153.56 L488.86,154.04 L489.00,154.52 L489.15,155.00 L489.33,155.48 L489.52,155.96 L489.73,156.44 L489.96,156.92 L490.20,157.40 L490.48,157.90 L490.81,158.40 L491.16,158.90 L491.53,159.40 L491.91,159.90 L492.29,160.40 L492.66,160.90 L493.00,161.40 L493.33,161.90 L493.66,162.40 L493.98,162.90 L494.30,163.40 L494.60,163.90 L494.89,164.40 L495.16,164.90 L495.40,165.40 L495.60,165.86 L495.79,166.31 L495.96,166.77 L496.11,167.23 L496.23,167.69 L496.33,168.14 L496.40,168.60 L496.47,169.08 L496.54,169.56 L496.55,170.04 L496.45,170.52 L496.20,171.00 L495.70,171.47 L495.00,171.93 L494.30,172.40 L473.30,172.40 L472.60,171.93 L471.90,171.47 L471.40,171.00 L471.15,170.52 L471.05,170.04 L471.06,169.56 L471.13,169.08 L471.20,168.60 L471.27,168.14 L471.37,167.69 L471.49,167.23 L471.64,166.77 L471.81,166.31 L472.00,165.86 L472.20,165.40 L472.44,164.90 L472.71,164.40 L473.00,163.90 L473.30,163.40 L473.62,162.90 L473.94,162.40 L474.27,161.90 L474.60,161.40 L474.94,160.90 L475.31,160.40 L475.69,159.90 L476.07,159.40 L476.44,158.90 L476.79,158.40 L477.12,157.90 L477.40,157.40 L477.64,156.92 L477.87,156.44 L478.08,155.96 L478.27,155.48 L478.45,155.00 L478.60,154.52 L478.74,154.04 L478.85,153.56 L478.94,153.08 L479.00,152.60 L479.03,152.12 L479.02,151.64 L478.99,151.16 L478.93,150.68 L478.85,150.20 L478.76,149.72 L478.66,149.24 L478.57,148.76 L478.48,148.28 L478.40,147.80 L478.32,147.32 L478.23,146.84 L478.14,146.36 L478.04,145.88 L477.94,145.40 L477.85,144.92 L477.76,144.44 L477.69,143.96 L477.63,143.48 L477.60,143.00 L477.59,142.50 L477.59,142.00 L477.60,141.50 L477.64,141.00 L477.68,140.50 L477.74,140.00 L477.81,139.50 L477.90,139.00 L478.00,138.50 L478.12,138.00 L478.26,137.50 L478.41,137.00 L478.57,136.50 L478.73,136.00 L478.89,135.50 L479.05,135.00 L479.20,134.50 L479.34,134.01 L479.49,133.52 L479.63,133.03 L479.77,132.54 L479.91,132.06 L480.06,131.57 L480.20,131.08 L480.35,130.59 L480.50,130.10 L480.66,129.61 L480.82,129.12 L481.00,128.63 L481.17,128.14 L481.34,127.66 L481.50,127.17 L481.65,126.68 L481.79,126.19 L481.90,125.70 L481.99,125.22 L482.07,124.74 L482.14,124.25 L482.19,123.77 L482.24,123.29 L482.27,122.81 L482.30,122.33 L482.33,121.85 L482.36,121.36 L482.38,120.88 L482.40,120.40 L482.41,119.93 L482.41,119.45 L482.40,118.98 L482.38,118.51 L482.36,118.04 L482.34,117.56 L482.32,117.09 L482.32,116.62 L482.33,116.15 L482.35,115.67 L482.40,115.20 L482.48,114.71 L482.59,114.22 L482.73,113.73 L482.87,113.24 L483.03,112.76 L483.17,112.27 L483.31,111.78 L483.42,111.29 L483.50,110.80 L483.56,110.30 L483.62,109.80 L483.65,109.30 L483.65,108.80 L483.65,108.30 L483.65,107.80 L483.65,107.30 L483.65,106.80 L483.65,106.30 L483.65,105.80 L483.65,105.30 L483.65,104.80 L483.65,104.30 L483.65,103.80 L483.65,103.30 L483.65,102.80 L483.65,102.30 L483.65,101.80 L483.65,101.30 L483.65,100.80 L483.65,100.30 L483.65,99.80 L483.65,99.30 L483.65,98.80 L483.65,98.30 L483.65,97.80 L483.65,97.30 L483.65,96.80 L483.62,96.30 L483.56,95.80 L483.50,95.30 L483.42,94.83 L483.31,94.37 L483.18,93.90 L483.04,93.43 L482.91,92.97 L482.80,92.50 L482.71,92.06 L482.63,91.61 L482.55,91.17 L482.47,90.73 L482.42,90.29 L482.37,89.84 L482.35,89.40 L482.35,88.91 L482.36,88.43 L482.39,87.94 L482.43,87.45 L482.49,86.96 L482.55,86.47 L482.62,85.99 L482.70,85.50 L482.79,85.00 L482.91,84.50 L483.04,84.00 L483.17,83.50 L483.30,83.00 L483.41,82.50 L483.50,82.00 L483.56,81.53 L483.61,81.05 L483.65,80.58 L483.65,80.11 L483.65,79.64 L483.65,79.16 L483.65,78.69 L483.65,78.22 L483.65,77.75 L483.65,77.27 L483.65,76.80 L483.65,76.32 L483.65,75.83 L483.65,75.35 L483.65,74.86 L483.65,74.38 L483.65,73.89 L483.65,73.41 L483.65,72.93 L483.65,72.44 L483.65,71.96 L483.65,71.47 L483.65,70.99 L483.65,70.51 L483.65,70.02 L483.65,69.54 L483.65,69.05 L483.65,68.57 L483.65,68.08 L483.65,67.60 Z" fill="#e2f1fa" stroke="#3a9ccb" stroke-width="1.45" stroke-linejoin="round"/>
<line x1="478.54" y1="140" x2="489.06" y2="140" stroke="#3a9ccb" stroke-opacity="0.3" stroke-width="0.8" stroke-dasharray="1 1"/>
<line x1="474.74" y1="162.4" x2="492.86" y2="162.4" stroke="#666" stroke-opacity="0.6" stroke-width="1.2" stroke-dasharray="1.8 2.2"/>
<line x1="471.89" y1="170.2" x2="495.71" y2="170.2" stroke="#3a9ccb" stroke-opacity="0.3" stroke-width="0.8" stroke-dasharray="1 1"/>
<path d="M77.50,295.50 L77.50,296.00 L77.50,296.50 L77.50,297.00 L77.50,297.50 L77.50,298.00 L77.50,298.50 L77.50,299.00 L77.50,299.50 L77.50,300.00 L77.50,300.50 L77.50,301.00 L77.50,301.50 L77.50,302.00 L77.50,302.50 L77.50,303.00 L77.50,303.50 L77.50,304.00 L77.50,304.50 L77.50,305.00 L77.50,305.50 L77.50,306.00 L77.50,306.50 L77.50,307.00 L77.50,307.50 L77.50,308.00 L77.50,308.50 L77.50,309.00 L77.50,309.50 L77.50,310.00 L77.50,310.50 L77.50,311.00 L77.50,311.50 L77.50,312.00 L77.50,312.50 L77.50,313.00 L77.50,313.50 L77.50,314.00 L77.50,314.50 L77.50,315.00 L77.50,315.50 L77.50,316.00 L77.50,316.50 L77.50,317.00 L77.50,317.50 L77.50,318.00 L77.50,318.50 L77.50,319.00 L77.50,319.50 L77.50,320.00 L77.50,320.50 L77.50,321.00 L77.50,321.50 L77.50,322.00 L77.50,322.50 L77.50,323.00 L77.50,323.50 L77.50,324.00 L77.50,324.50 L77.50,325.00 L77.50,325.50 L77.50,326.00 L77.50,326.50 L77.50,327.00 L77.50,327.50 L77.50,328.00 L77.50,328.50 L77.50,329.00 L77.50,329.50 L77.50,330.00 L77.50,330.50 L77.50,331.00 L77.50,331.50 L77.50,332.00 L77.50,332.50 L77.50,333.00 L77.50,333.50 L77.50,334.00 L77.50,334.50 L77.50,335.00 L77.50,335.50 L77.50,336.00 L77.50,336.50 L77.50,337.00 L77.50,337.44 L77.56,337.89 L77.71,338.33 L77.86,338.77 L78.02,339.21 L78.15,339.66 L78.25,340.10 L78.33,340.60 L78.39,341.10 L78.44,341.60 L78.48,342.10 L78.51,342.60 L78.53,343.10 L78.55,343.60 L78.57,344.10 L78.59,344.60 L78.61,345.10 L78.65,345.60 L78.69,346.08 L78.73,346.55 L78.77,347.03 L78.82,347.51 L78.86,347.98 L78.91,348.46 L78.95,348.94 L79.00,349.42 L79.04,349.89 L79.08,350.37 L79.12,350.85 L79.16,351.32 L79.20,351.80 L79.24,352.30 L79.27,352.80 L79.30,353.30 L79.34,353.80 L79.37,354.30 L79.39,354.80 L79.42,355.30 L79.45,355.80 L79.48,356.30 L79.52,356.80 L79.55,357.30 L79.58,357.79 L79.61,358.28 L79.64,358.77 L79.66,359.26 L79.69,359.75 L79.72,360.25 L79.75,360.74 L79.79,361.23 L79.83,361.72 L79.89,362.21 L79.95,362.70 L80.02,363.19 L80.09,363.68 L80.17,364.18 L80.26,364.67 L80.34,365.16 L80.44,365.65 L80.54,366.15 L80.64,366.64 L80.75,367.13 L80.87,367.62 L80.99,368.12 L81.12,368.61 L81.25,369.10 L81.39,369.57 L81.55,370.03 L81.72,370.50 L81.90,370.97 L82.08,371.43 L82.26,371.90 L82.43,372.37 L82.60,372.83 L82.75,373.30 L82.89,373.76 L83.04,374.21 L83.19,374.67 L83.33,375.12 L83.47,375.58 L83.58,376.03 L83.68,376.49 L83.76,376.94 L83.80,377.40 L83.79,377.86 L83.74,378.31 L83.64,378.77 L83.52,379.22 L83.40,379.68 L83.30,380.13 L83.23,380.59 L83.21,381.04 L83.25,381.50 L83.37,381.97 L83.55,382.43 L83.79,382.90 L84.05,383.37 L84.33,383.83 L84.62,384.30 L84.89,384.77 L85.14,385.23 L85.35,385.70 L85.54,386.15 L85.75,386.60 L85.96,387.05 L86.15,387.50 L86.31,387.95 L86.41,388.40 L86.45,388.85 L86.40,389.30 L86.25,389.75 L86.01,390.20 L85.69,390.65 L85.33,391.10 L84.94,391.55 L84.54,392.00 L84.15,392.45 L83.80,392.90 L83.44,393.37 L83.07,393.83 L82.68,394.30 L82.28,394.77 L81.90,395.23 L81.54,395.70 L81.22,396.17 L80.93,396.63 L80.70,397.10 L80.54,397.56 L80.43,398.01 L80.37,398.47 L80.33,398.92 L80.32,399.38 L80.31,399.83 L80.30,400.29 L80.27,400.74 L80.20,401.20 L80.11,401.66 L80.02,402.11 L79.92,402.57 L79.81,403.02 L79.69,403.48 L79.57,403.93 L79.44,404.39 L79.30,404.84 L79.15,405.30 L78.98,405.74 L78.78,406.19 L78.57,406.63 L78.36,407.07 L78.16,407.51 L77.98,407.96 L77.85,408.40 L77.74,408.89 L77.65,409.39 L77.58,409.88 L77.53,410.37 L77.50,410.86 L77.50,411.36 L77.50,411.85 L77.50,412.34 L77.50,412.84 L77.50,413.33 L77.50,413.82 L77.50,414.31 L77.50,414.81 L77.50,415.30 L77.20,415.30 L77.20,414.81 L77.20,414.31 L77.20,413.82 L77.20,413.33 L77.20,412.84 L77.20,412.34 L77.20,411.85 L77.20,411.36 L77.20,410.86 L77.17,410.37 L77.12,409.88 L77.05,409.39 L76.96,408.89 L76.85,408.40 L76.72,407.96 L76.54,407.51 L76.34,407.07 L76.13,406.63 L75.92,406.19 L75.72,405.74 L75.55,405.30 L75.40,404.84 L75.26,404.39 L75.13,403.93 L75.01,403.48 L74.89,403.02 L74.78,402.57 L74.68,402.11 L74.59,401.66 L74.50,401.20 L74.43,400.74 L74.40,400.29 L74.39,399.83 L74.38,399.38 L74.37,398.92 L74.33,398.47 L74.27,398.01 L74.16,397.56 L74.00,397.10 L73.77,396.63 L73.48,396.17 L73.16,395.70 L72.80,395.23 L72.42,394.77 L72.02,394.30 L71.63,393.83 L71.26,393.37 L70.90,392.90 L70.55,392.45 L70.16,392.00 L69.76,391.55 L69.37,391.10 L69.01,390.65 L68.69,390.20 L68.45,389.75 L68.30,389.30 L68.25,388.85 L68.29,388.40 L68.39,387.95 L68.55,387.50 L68.74,387.05 L68.95,386.60 L69.16,386.15 L69.35,385.70 L69.56,385.23 L69.81,384.77 L70.08,384.30 L70.37,383.83 L70.65,383.37 L70.91,382.90 L71.15,382.43 L71.33,381.97 L71.45,381.50 L71.49,381.04 L71.47,380.59 L71.40,380.13 L71.30,379.68 L71.18,379.22 L71.06,378.77 L70.96,378.31 L70.91,377.86 L70.90,377.40 L70.94,376.94 L71.02,376.49 L71.12,376.03 L71.23,375.58 L71.37,375.12 L71.51,374.67 L71.66,374.21 L71.81,373.76 L71.95,373.30 L72.10,372.83 L72.27,372.37 L72.44,371.90 L72.62,371.43 L72.80,370.97 L72.98,370.50 L73.15,370.03 L73.31,369.57 L73.45,369.10 L73.58,368.61 L73.71,368.12 L73.83,367.62 L73.95,367.13 L74.06,366.64 L74.16,366.15 L74.26,365.65 L74.36,365.16 L74.44,364.67 L74.53,364.18 L74.61,363.68 L74.68,363.19 L74.75,362.70 L74.81,362.21 L74.87,361.72 L74.91,361.23 L74.95,360.74 L74.98,360.25 L75.01,359.75 L75.04,359.26 L75.06,358.77 L75.09,358.28 L75.12,357.79 L75.15,357.30 L75.18,356.80 L75.22,356.30 L75.25,355.80 L75.28,355.30 L75.31,354.80 L75.33,354.30 L75.36,353.80 L75.40,353.30 L75.43,352.80 L75.46,352.30 L75.50,351.80 L75.54,351.32 L75.58,350.85 L75.62,350.37 L75.66,349.89 L75.70,349.42 L75.75,348.94 L75.79,348.46 L75.84,347.98 L75.88,347.51 L75.93,347.03 L75.97,346.55 L76.01,346.08 L76.05,345.60 L76.09,345.10 L76.11,344.60 L76.13,344.10 L76.15,343.60 L76.17,343.10 L76.19,342.60 L76.22,342.10 L76.26,341.60 L76.31,341.10 L76.37,340.60 L76.45,340.10 L76.55,339.66 L76.68,339.21 L76.84,338.77 L76.99,338.33 L77.14,337.89 L77.20,337.44 L77.20,337.00 L77.20,336.50 L77.20,336.00 L77.20,335.50 L77.20,335.00 L77.20,334.50 L77.20,334.00 L77.20,333.50 L77.20,333.00 L77.20,332.50 L77.20,332.00 L77.20,331.50 L77.20,331.00 L77.20,330.50 L77.20,330.00 L77.20,329.50 L77.20,329.00 L77.20,328.50 L77.20,328.00 L77.20,327.50 L77.20,327.00 L77.20,326.50 L77.20,326.00 L77.20,325.50 L77.20,325.00 L77.20,324.50 L77.20,324.00 L77.20,323.50 L77.20,323.00 L77.20,322.50 L77.20,322.00 L77.20,321.50 L77.20,321.00 L77.20,320.50 L77.20,320.00 L77.20,319.50 L77.20,319.00 L77.20,318.50 L77.20,318.00 L77.20,317.50 L77.20,317.00 L77.20,316.50 L77.20,316.00 L77.20,315.50 L77.20,315.00 L77.20,314.50 L77.20,314.00 L77.20,313.50 L77.20,313.00 L77.20,312.50 L77.20,312.00 L77.20,311.50 L77.20,311.00 L77.20,310.50 L77.20,310.00 L77.20,309.50 L77.20,309.00 L77.20,308.50 L77.20,308.00 L77.20,307.50 L77.20,307.00 L77.20,306.50 L77.20,306.00 L77.20,305.50 L77.20,305.00 L77.20,304.50 L77.20,304.00 L77.20,303.50 L77.20,303.00 L77.20,302.50 L77.20,302.00 L77.20,301.50 L77.20,301.00 L77.20,300.50 L77.20,300.00 L77.20,299.50 L77.20,299.00 L77.20,298.50 L77.20,298.00 L77.20,297.50 L77.20,297.00 L77.20,296.50 L77.20,296.00 L77.20,295.50 Z" fill="#e4d3e8" stroke="#371540" stroke-width="1.45" stroke-linejoin="round"/>
<line x1="72.91" y1="372.8" x2="81.79" y2="372.8" stroke="#371540" stroke-opacity="0.3" stroke-width="0.8" stroke-dasharray="1 1"/>
<line x1="71.60" y1="383.1" x2="83.10" y2="383.1" stroke="#666" stroke-opacity="0.6" stroke-width="1.2" stroke-dasharray="1.8 2.2"/>
<line x1="69.28" y1="389.8" x2="85.42" y2="389.8" stroke="#371540" stroke-opacity="0.3" stroke-width="0.8" stroke-dasharray="1 1"/>
<path d="M106.50,310.90 L106.50,311.39 L106.50,311.87 L106.50,312.36 L106.50,312.84 L106.50,313.33 L106.50,313.81 L106.50,314.30 L106.50,314.79 L106.50,315.27 L106.50,315.76 L106.50,316.24 L106.50,316.73 L106.50,317.21 L106.50,317.70 L106.50,318.19 L106.50,318.67 L106.50,319.16 L106.50,319.64 L106.50,320.13 L106.50,320.61 L106.50,321.10 L106.50,321.58 L106.62,322.07 L106.80,322.55 L107.00,323.03 L107.19,323.52 L107.35,324.00 L107.50,324.49 L107.66,324.97 L107.81,325.46 L107.96,325.94 L108.07,326.43 L108.16,326.91 L108.20,327.40 L108.20,327.85 L108.15,328.30 L108.08,328.75 L107.99,329.20 L107.89,329.65 L107.77,330.10 L107.66,330.55 L107.55,331.00 L107.43,331.47 L107.28,331.94 L107.13,332.41 L106.98,332.89 L106.84,333.36 L106.72,333.83 L106.65,334.30 L106.62,334.76 L106.61,335.23 L106.63,335.69 L106.66,336.15 L106.71,336.61 L106.76,337.07 L106.81,337.54 L106.85,338.00 L106.89,338.46 L106.93,338.91 L106.98,339.37 L107.03,339.82 L107.08,340.28 L107.13,340.73 L107.19,341.19 L107.24,341.64 L107.30,342.10 L107.36,342.59 L107.41,343.07 L107.47,343.56 L107.52,344.04 L107.58,344.53 L107.64,345.01 L107.69,345.50 L107.75,345.99 L107.82,346.47 L107.88,346.96 L107.96,347.44 L108.03,347.93 L108.11,348.41 L108.20,348.90 L108.29,349.34 L108.38,349.79 L108.49,350.23 L108.59,350.67 L108.71,351.11 L108.83,351.56 L108.95,352.00 L109.09,352.47 L109.24,352.94 L109.40,353.41 L109.57,353.89 L109.72,354.36 L109.87,354.83 L110.00,355.30 L110.12,355.78 L110.25,356.26 L110.37,356.75 L110.48,357.23 L110.59,357.71 L110.70,358.19 L110.79,358.67 L110.86,359.15 L110.93,359.64 L110.97,360.12 L111.00,360.60 L111.00,361.08 L110.96,361.56 L110.89,362.05 L110.81,362.53 L110.72,363.01 L110.62,363.49 L110.53,363.97 L110.44,364.45 L110.38,364.94 L110.35,365.42 L110.35,365.90 L110.39,366.40 L110.45,366.90 L110.54,367.40 L110.65,367.90 L110.78,368.40 L110.92,368.90 L111.06,369.40 L111.20,369.90 L111.35,370.38 L111.53,370.86 L111.73,371.35 L111.94,371.83 L112.15,372.31 L112.36,372.79 L112.56,373.27 L112.74,373.75 L112.90,374.24 L113.02,374.72 L113.10,375.20 L113.14,375.67 L113.13,376.14 L113.09,376.61 L113.03,377.09 L112.95,377.56 L112.85,378.03 L112.74,378.50 L112.64,378.97 L112.54,379.44 L112.45,379.91 L112.38,380.39 L112.34,380.86 L112.32,381.33 L112.35,381.80 L112.41,382.28 L112.51,382.76 L112.63,383.24 L112.77,383.71 L112.93,384.19 L113.10,384.67 L113.28,385.15 L113.47,385.63 L113.65,386.11 L113.84,386.59 L114.01,387.06 L114.18,387.54 L114.32,388.02 L114.45,388.50 L114.57,388.98 L114.70,389.46 L114.84,389.95 L114.97,390.43 L115.10,390.91 L115.21,391.39 L115.30,391.87 L115.36,392.35 L115.40,392.84 L115.40,393.32 L115.35,393.80 L115.26,394.28 L115.13,394.76 L114.96,395.25 L114.76,395.73 L114.53,396.21 L114.29,396.69 L114.03,397.17 L113.76,397.65 L113.49,398.14 L113.21,398.62 L112.95,399.10 L112.68,399.58 L112.40,400.06 L112.10,400.55 L111.79,401.03 L111.47,401.51 L111.16,401.99 L110.84,402.47 L110.53,402.95 L110.22,403.44 L109.93,403.92 L109.65,404.40 L109.37,404.90 L109.10,405.40 L108.84,405.90 L108.59,406.40 L108.34,406.90 L108.11,407.40 L107.87,407.90 L107.65,408.40 L107.46,408.83 L107.26,409.27 L107.08,409.70 L106.91,410.13 L106.77,410.57 L106.65,411.00 L106.56,411.48 L106.50,411.96 L106.50,412.43 L106.50,412.91 L106.50,413.39 L106.50,413.87 L106.50,414.34 L106.50,414.82 L106.50,415.30 L106.20,415.30 L106.20,414.82 L106.20,414.34 L106.20,413.87 L106.20,413.39 L106.20,412.91 L106.20,412.43 L106.20,411.96 L106.14,411.48 L106.05,411.00 L105.93,410.57 L105.79,410.13 L105.62,409.70 L105.44,409.27 L105.24,408.83 L105.05,408.40 L104.83,407.90 L104.59,407.40 L104.36,406.90 L104.11,406.40 L103.86,405.90 L103.60,405.40 L103.33,404.90 L103.05,404.40 L102.77,403.92 L102.48,403.44 L102.17,402.95 L101.86,402.47 L101.54,401.99 L101.23,401.51 L100.91,401.03 L100.60,400.55 L100.30,400.06 L100.02,399.58 L99.75,399.10 L99.49,398.62 L99.21,398.14 L98.94,397.65 L98.67,397.17 L98.41,396.69 L98.17,396.21 L97.94,395.73 L97.74,395.25 L97.57,394.76 L97.44,394.28 L97.35,393.80 L97.30,393.32 L97.30,392.84 L97.34,392.35 L97.40,391.87 L97.49,391.39 L97.60,390.91 L97.73,390.43 L97.86,389.95 L98.00,389.46 L98.13,388.98 L98.25,388.50 L98.38,388.02 L98.52,387.54 L98.69,387.06 L98.86,386.59 L99.05,386.11 L99.23,385.63 L99.42,385.15 L99.60,384.67 L99.77,384.19 L99.93,383.71 L100.07,383.24 L100.19,382.76 L100.29,382.28 L100.35,381.80 L100.38,381.33 L100.36,380.86 L100.32,380.39 L100.25,379.91 L100.16,379.44 L100.06,378.97 L99.96,378.50 L99.85,378.03 L99.75,377.56 L99.67,377.09 L99.61,376.61 L99.57,376.14 L99.56,375.67 L99.60,375.20 L99.68,374.72 L99.80,374.24 L99.96,373.75 L100.14,373.27 L100.34,372.79 L100.55,372.31 L100.76,371.83 L100.97,371.35 L101.17,370.86 L101.35,370.38 L101.50,369.90 L101.64,369.40 L101.78,368.90 L101.92,368.40 L102.05,367.90 L102.16,367.40 L102.25,366.90 L102.31,366.40 L102.35,365.90 L102.35,365.42 L102.32,364.94 L102.26,364.45 L102.17,363.97 L102.08,363.49 L101.98,363.01 L101.89,362.53 L101.81,362.05 L101.74,361.56 L101.70,361.08 L101.70,360.60 L101.73,360.12 L101.77,359.64 L101.84,359.15 L101.91,358.67 L102.00,358.19 L102.11,357.71 L102.22,357.23 L102.33,356.75 L102.45,356.26 L102.58,355.78 L102.70,355.30 L102.83,354.83 L102.98,354.36 L103.13,353.89 L103.30,353.41 L103.46,352.94 L103.61,352.47 L103.75,352.00 L103.87,351.56 L103.99,351.11 L104.11,350.67 L104.21,350.23 L104.32,349.79 L104.41,349.34 L104.50,348.90 L104.59,348.41 L104.67,347.93 L104.74,347.44 L104.82,346.96 L104.88,346.47 L104.95,345.99 L105.01,345.50 L105.06,345.01 L105.12,344.53 L105.18,344.04 L105.23,343.56 L105.29,343.07 L105.34,342.59 L105.40,342.10 L105.46,341.64 L105.51,341.19 L105.57,340.73 L105.62,340.28 L105.67,339.82 L105.72,339.37 L105.77,338.91 L105.81,338.46 L105.85,338.00 L105.89,337.54 L105.94,337.07 L105.99,336.61 L106.04,336.15 L106.07,335.69 L106.09,335.23 L106.08,334.76 L106.05,334.30 L105.98,333.83 L105.86,333.36 L105.72,332.89 L105.57,332.41 L105.42,331.94 L105.27,331.47 L105.15,331.00 L105.04,330.55 L104.93,330.10 L104.81,329.65 L104.71,329.20 L104.62,328.75 L104.55,328.30 L104.50,327.85 L104.50,327.40 L104.54,326.91 L104.63,326.43 L104.74,325.94 L104.89,325.46 L105.04,324.97 L105.20,324.49 L105.35,324.00 L105.51,323.52 L105.70,323.03 L105.90,322.55 L106.08,322.07 L106.20,321.58 L106.20,321.10 L106.20,320.61 L106.20,320.13 L106.20,319.64 L106.20,319.16 L106.20,318.67 L106.20,318.19 L106.20,317.70 L106.20,317.21 L106.20,316.73 L106.20,316.24 L106.20,315.76 L106.20,315.27 L106.20,314.79 L106.20,314.30 L106.20,313.81 L106.20,313.33 L106.20,312.84 L106.20,312.36 L106.20,311.87 L106.20,311.39 L106.20,310.90 Z" fill="#e2f1fa" stroke="#3a9ccb" stroke-width="1.45" stroke-linejoin="round"/>
<line x1="102.99" y1="367.2" x2="109.71" y2="367.2" stroke="#3a9ccb" stroke-opacity="0.3" stroke-width="0.8" stroke-dasharray="1 1"/>
<line x1="101.04" y1="382.5" x2="111.66" y2="382.5" stroke="#666" stroke-opacity="0.6" stroke-width="1.2" stroke-dasharray="1.8 2.2"/>
<line x1="98.15" y1="393.8" x2="114.55" y2="393.8" stroke="#3a9ccb" stroke-opacity="0.3" stroke-width="0.8" stroke-dasharray="1 1"/>
<path d="M135.70,304.40 L135.70,304.89 L135.70,305.37 L135.70,305.86 L135.70,306.34 L135.70,306.83 L135.70,307.31 L135.70,307.80 L135.70,308.28 L135.70,308.77 L135.70,309.25 L135.70,309.74 L135.70,310.22 L135.70,310.71 L135.70,311.19 L135.70,311.68 L135.70,312.16 L135.70,312.65 L135.70,313.13 L135.70,313.62 L135.70,314.10 L135.70,314.59 L135.70,315.07 L135.70,315.56 L135.70,316.04 L135.70,316.53 L135.70,317.01 L135.70,317.50 L135.70,318.00 L135.88,318.50 L136.11,319.00 L136.36,319.50 L136.61,320.00 L136.85,320.50 L137.05,321.00 L137.22,321.47 L137.38,321.94 L137.54,322.41 L137.69,322.88 L137.83,323.35 L137.97,323.82 L138.10,324.29 L138.22,324.76 L138.34,325.23 L138.45,325.70 L138.56,326.17 L138.66,326.64 L138.76,327.11 L138.86,327.58 L138.94,328.05 L139.02,328.52 L139.09,328.99 L139.14,329.46 L139.18,329.93 L139.20,330.40 L139.20,330.89 L139.17,331.38 L139.13,331.88 L139.06,332.37 L138.99,332.86 L138.91,333.35 L138.83,333.84 L138.76,334.33 L138.69,334.82 L138.64,335.32 L138.61,335.81 L138.60,336.30 L138.61,336.78 L138.64,337.27 L138.68,337.75 L138.72,338.23 L138.78,338.72 L138.84,339.20 L138.91,339.68 L138.99,340.17 L139.08,340.65 L139.16,341.13 L139.26,341.62 L139.35,342.10 L139.45,342.59 L139.57,343.08 L139.69,343.58 L139.83,344.07 L139.96,344.56 L140.11,345.05 L140.25,345.54 L140.39,346.03 L140.53,346.52 L140.66,347.02 L140.79,347.51 L140.90,348.00 L141.01,348.48 L141.12,348.97 L141.24,349.45 L141.35,349.93 L141.46,350.42 L141.57,350.90 L141.66,351.38 L141.75,351.87 L141.82,352.35 L141.88,352.83 L141.93,353.32 L141.95,353.80 L141.95,354.26 L141.92,354.71 L141.88,355.17 L141.81,355.63 L141.73,356.09 L141.65,356.54 L141.55,357.00 L141.43,357.50 L141.30,358.00 L141.15,358.50 L140.99,359.00 L140.82,359.50 L140.65,360.00 L140.48,360.46 L140.30,360.92 L140.11,361.38 L139.91,361.84 L139.71,362.30 L139.51,362.76 L139.33,363.22 L139.15,363.68 L138.99,364.14 L138.85,364.60 L138.71,365.10 L138.57,365.60 L138.44,366.10 L138.33,366.60 L138.25,367.10 L138.19,367.60 L138.17,368.10 L138.20,368.60 L138.27,369.08 L138.38,369.56 L138.52,370.05 L138.69,370.53 L138.88,371.01 L139.09,371.49 L139.30,371.97 L139.53,372.45 L139.76,372.94 L139.98,373.42 L140.20,373.90 L140.42,374.38 L140.66,374.86 L140.91,375.35 L141.17,375.83 L141.44,376.31 L141.70,376.79 L141.96,377.27 L142.21,377.75 L142.44,378.24 L142.66,378.72 L142.85,379.20 L143.03,379.68 L143.20,380.16 L143.37,380.65 L143.53,381.13 L143.68,381.61 L143.81,382.09 L143.93,382.57 L144.02,383.05 L144.09,383.54 L144.13,384.02 L144.15,384.50 L144.13,384.98 L144.09,385.46 L144.02,385.95 L143.93,386.43 L143.81,386.91 L143.68,387.39 L143.53,387.87 L143.37,388.35 L143.20,388.84 L143.03,389.32 L142.85,389.80 L142.66,390.28 L142.45,390.76 L142.22,391.25 L141.99,391.73 L141.74,392.21 L141.48,392.69 L141.22,393.17 L140.96,393.65 L140.70,394.14 L140.45,394.62 L140.20,395.10 L139.96,395.58 L139.70,396.06 L139.45,396.55 L139.19,397.03 L138.94,397.51 L138.68,397.99 L138.44,398.47 L138.20,398.95 L137.97,399.44 L137.75,399.92 L137.55,400.40 L137.36,400.90 L137.18,401.40 L137.02,401.90 L136.87,402.40 L136.73,402.90 L136.60,403.40 L136.47,403.90 L136.35,404.40 L136.25,404.83 L136.15,405.27 L136.06,405.70 L135.98,406.13 L135.91,406.57 L135.85,407.00 L135.80,407.49 L135.76,407.98 L135.72,408.46 L135.70,408.95 L135.70,409.44 L135.70,409.93 L135.70,410.42 L135.70,410.91 L135.70,411.39 L135.70,411.88 L135.70,412.37 L135.70,412.86 L135.70,413.35 L135.70,413.84 L135.70,414.32 L135.70,414.81 L135.70,415.30 L135.40,415.30 L135.40,414.81 L135.40,414.32 L135.40,413.84 L135.40,413.35 L135.40,412.86 L135.40,412.37 L135.40,411.88 L135.40,411.39 L135.40,410.91 L135.40,410.42 L135.40,409.93 L135.40,409.44 L135.40,408.95 L135.38,408.46 L135.34,407.98 L135.30,407.49 L135.25,407.00 L135.19,406.57 L135.12,406.13 L135.04,405.70 L134.95,405.27 L134.85,404.83 L134.75,404.40 L134.63,403.90 L134.50,403.40 L134.37,402.90 L134.23,402.40 L134.08,401.90 L133.92,401.40 L133.74,400.90 L133.55,400.40 L133.35,399.92 L133.13,399.44 L132.90,398.95 L132.66,398.47 L132.42,397.99 L132.16,397.51 L131.91,397.03 L131.65,396.55 L131.40,396.06 L131.14,395.58 L130.90,395.10 L130.65,394.62 L130.40,394.14 L130.14,393.65 L129.88,393.17 L129.62,392.69 L129.36,392.21 L129.11,391.73 L128.88,391.25 L128.65,390.76 L128.44,390.28 L128.25,389.80 L128.07,389.32 L127.90,388.84 L127.73,388.35 L127.57,387.87 L127.42,387.39 L127.29,386.91 L127.17,386.43 L127.08,385.95 L127.01,385.46 L126.97,384.98 L126.95,384.50 L126.97,384.02 L127.01,383.54 L127.08,383.05 L127.17,382.57 L127.29,382.09 L127.42,381.61 L127.57,381.13 L127.73,380.65 L127.90,380.16 L128.07,379.68 L128.25,379.20 L128.44,378.72 L128.66,378.24 L128.89,377.75 L129.14,377.27 L129.40,376.79 L129.66,376.31 L129.93,375.83 L130.19,375.35 L130.44,374.86 L130.68,374.38 L130.90,373.90 L131.12,373.42 L131.34,372.94 L131.57,372.45 L131.80,371.97 L132.01,371.49 L132.22,371.01 L132.41,370.53 L132.58,370.05 L132.72,369.56 L132.83,369.08 L132.90,368.60 L132.93,368.10 L132.91,367.60 L132.85,367.10 L132.77,366.60 L132.66,366.10 L132.53,365.60 L132.39,365.10 L132.25,364.60 L132.11,364.14 L131.95,363.68 L131.77,363.22 L131.59,362.76 L131.39,362.30 L131.19,361.84 L130.99,361.38 L130.80,360.92 L130.62,360.46 L130.45,360.00 L130.28,359.50 L130.11,359.00 L129.95,358.50 L129.80,358.00 L129.67,357.50 L129.55,357.00 L129.45,356.54 L129.37,356.09 L129.29,355.63 L129.22,355.17 L129.18,354.71 L129.15,354.26 L129.15,353.80 L129.17,353.32 L129.22,352.83 L129.28,352.35 L129.35,351.87 L129.44,351.38 L129.53,350.90 L129.64,350.42 L129.75,349.93 L129.86,349.45 L129.98,348.97 L130.09,348.48 L130.20,348.00 L130.31,347.51 L130.44,347.02 L130.57,346.52 L130.71,346.03 L130.85,345.54 L130.99,345.05 L131.14,344.56 L131.27,344.07 L131.41,343.58 L131.53,343.08 L131.65,342.59 L131.75,342.10 L131.84,341.62 L131.94,341.13 L132.02,340.65 L132.11,340.17 L132.19,339.68 L132.26,339.20 L132.32,338.72 L132.38,338.23 L132.42,337.75 L132.46,337.27 L132.49,336.78 L132.50,336.30 L132.49,335.81 L132.46,335.32 L132.41,334.82 L132.34,334.33 L132.27,333.84 L132.19,333.35 L132.11,332.86 L132.04,332.37 L131.97,331.88 L131.93,331.38 L131.90,330.89 L131.90,330.40 L131.92,329.93 L131.96,329.46 L132.01,328.99 L132.08,328.52 L132.16,328.05 L132.24,327.58 L132.34,327.11 L132.44,326.64 L132.54,326.17 L132.65,325.70 L132.76,325.23 L132.88,324.76 L133.00,324.29 L133.13,323.82 L133.27,323.35 L133.41,322.88 L133.56,322.41 L133.72,321.94 L133.88,321.47 L134.05,321.00 L134.25,320.50 L134.49,320.00 L134.74,319.50 L134.99,319.00 L135.22,318.50 L135.40,318.00 L135.40,317.50 L135.40,317.01 L135.40,316.53 L135.40,316.04 L135.40,315.56 L135.40,315.07 L135.40,314.59 L135.40,314.10 L135.40,313.62 L135.40,313.13 L135.40,312.65 L135.40,312.16 L135.40,311.68 L135.40,311.19 L135.40,310.71 L135.40,310.22 L135.40,309.74 L135.40,309.25 L135.40,308.77 L135.40,308.28 L135.40,307.80 L135.40,307.31 L135.40,306.83 L135.40,306.34 L135.40,305.86 L135.40,305.37 L135.40,304.89 L135.40,304.40 Z" fill="#d6dcd8" stroke="#1f5a42" stroke-width="1.45" stroke-linejoin="round"/>
<line x1="130.07" y1="352.4" x2="141.03" y2="352.4" stroke="#1f5a42" stroke-opacity="0.3" stroke-width="0.8" stroke-dasharray="1 1"/>
<line x1="133.72" y1="367.9" x2="137.38" y2="367.9" stroke="#666" stroke-opacity="0.6" stroke-width="1.2" stroke-dasharray="1.8 2.2"/>
<line x1="127.86" y1="385.8" x2="143.24" y2="385.8" stroke="#1f5a42" stroke-opacity="0.3" stroke-width="0.8" stroke-dasharray="1 1"/>
<path d="M255.35,322.80 L255.35,323.30 L255.35,323.79 L255.35,324.29 L255.35,324.79 L255.35,325.29 L255.35,325.78 L255.35,326.28 L255.35,326.78 L255.35,327.27 L255.35,327.77 L255.35,328.27 L255.35,328.77 L255.35,329.26 L255.35,329.76 L255.35,330.26 L255.35,330.75 L255.35,331.25 L255.35,331.75 L255.35,332.25 L255.35,332.74 L255.35,333.24 L255.35,333.74 L255.35,334.23 L255.35,334.73 L255.35,335.23 L255.35,335.73 L255.35,336.22 L255.35,336.72 L255.35,337.22 L255.35,337.71 L255.35,338.21 L255.35,338.71 L255.35,339.21 L255.35,339.70 L255.35,340.20 L255.35,340.70 L255.35,341.19 L255.35,341.69 L255.35,342.19 L255.35,342.69 L255.35,343.18 L255.35,343.68 L255.35,344.18 L255.35,344.67 L255.35,345.17 L255.35,345.67 L255.35,346.17 L255.35,346.66 L255.35,347.16 L255.35,347.66 L255.35,348.15 L255.35,348.65 L255.35,349.15 L255.35,349.65 L255.35,350.14 L255.35,350.64 L255.35,351.14 L255.35,351.63 L255.35,352.13 L255.35,352.63 L255.35,353.13 L255.35,353.62 L255.35,354.12 L255.35,354.62 L255.35,355.11 L255.35,355.61 L255.35,356.11 L255.35,356.61 L255.35,357.10 L255.35,357.60 L255.35,358.10 L255.35,358.59 L255.35,359.09 L255.35,359.59 L255.35,360.09 L255.35,360.58 L255.35,361.08 L255.35,361.58 L255.35,362.07 L255.35,362.57 L255.35,363.07 L255.35,363.57 L255.35,364.06 L255.35,364.56 L255.35,365.06 L255.35,365.55 L255.35,366.05 L255.35,366.55 L255.35,367.05 L255.35,367.54 L255.35,368.04 L255.36,368.54 L255.36,369.03 L255.36,369.53 L255.36,370.03 L255.37,370.53 L255.37,371.02 L255.37,371.52 L255.38,372.02 L255.38,372.51 L255.38,373.01 L255.39,373.51 L255.39,374.01 L255.40,374.50 L255.40,375.00 L255.40,375.49 L255.40,375.99 L255.40,376.48 L255.39,376.98 L255.39,377.47 L255.38,377.96 L255.38,378.46 L255.37,378.95 L255.37,379.45 L255.37,379.94 L255.37,380.44 L255.38,380.93 L255.39,381.42 L255.41,381.92 L255.43,382.41 L255.46,382.91 L255.50,383.40 L255.55,383.83 L255.63,384.27 L255.71,384.70 L255.79,385.13 L255.86,385.57 L255.90,386.00 L255.90,386.46 L255.88,386.91 L255.83,387.37 L255.78,387.82 L255.72,388.28 L255.67,388.73 L255.65,389.19 L255.65,389.64 L255.70,390.10 L255.81,390.57 L255.97,391.04 L256.17,391.51 L256.38,391.99 L256.59,392.46 L256.77,392.93 L256.90,393.40 L256.99,393.86 L257.05,394.33 L257.08,394.79 L257.11,395.25 L257.12,395.72 L257.12,396.18 L257.13,396.65 L257.15,397.11 L257.18,397.57 L257.23,398.04 L257.30,398.50 L257.39,398.97 L257.49,399.43 L257.60,399.90 L257.71,400.37 L257.85,400.83 L257.99,401.30 L258.16,401.77 L258.34,402.23 L258.55,402.70 L258.79,403.17 L259.08,403.64 L259.39,404.11 L259.71,404.59 L260.04,405.06 L260.36,405.53 L260.65,406.00 L260.93,406.49 L261.20,406.97 L261.47,407.46 L261.73,407.94 L261.99,408.43 L262.24,408.91 L262.50,409.40 L262.78,409.90 L263.06,410.40 L263.34,410.90 L263.59,411.40 L263.80,411.90 L263.96,412.38 L264.10,412.85 L264.18,413.32 L264.20,413.80 L264.12,414.27 L263.96,414.73 L263.80,415.20 L246.60,415.20 L246.44,414.73 L246.28,414.27 L246.20,413.80 L246.22,413.32 L246.30,412.85 L246.44,412.38 L246.60,411.90 L246.81,411.40 L247.06,410.90 L247.34,410.40 L247.62,409.90 L247.90,409.40 L248.16,408.91 L248.41,408.43 L248.67,407.94 L248.93,407.46 L249.20,406.97 L249.47,406.49 L249.75,406.00 L250.04,405.53 L250.36,405.06 L250.69,404.59 L251.01,404.11 L251.32,403.64 L251.61,403.17 L251.85,402.70 L252.06,402.23 L252.24,401.77 L252.41,401.30 L252.55,400.83 L252.69,400.37 L252.80,399.90 L252.91,399.43 L253.01,398.97 L253.10,398.50 L253.17,398.04 L253.22,397.57 L253.25,397.11 L253.27,396.65 L253.28,396.18 L253.28,395.72 L253.29,395.25 L253.32,394.79 L253.35,394.33 L253.41,393.86 L253.50,393.40 L253.63,392.93 L253.81,392.46 L254.02,391.99 L254.23,391.51 L254.43,391.04 L254.59,390.57 L254.70,390.10 L254.75,389.64 L254.75,389.19 L254.73,388.73 L254.68,388.28 L254.62,387.82 L254.57,387.37 L254.52,386.91 L254.50,386.46 L254.50,386.00 L254.54,385.57 L254.61,385.13 L254.69,384.70 L254.77,384.27 L254.85,383.83 L254.90,383.40 L254.94,382.91 L254.97,382.41 L254.99,381.92 L255.01,381.42 L255.02,380.93 L255.03,380.44 L255.03,379.94 L255.03,379.45 L255.03,378.95 L255.02,378.46 L255.02,377.96 L255.01,377.47 L255.01,376.98 L255.00,376.48 L255.00,375.99 L255.00,375.49 L255.00,375.00 L255.00,374.50 L255.01,374.01 L255.01,373.51 L255.02,373.01 L255.02,372.51 L255.02,372.02 L255.03,371.52 L255.03,371.02 L255.03,370.53 L255.04,370.03 L255.04,369.53 L255.04,369.03 L255.04,368.54 L255.05,368.04 L255.05,367.54 L255.05,367.05 L255.05,366.55 L255.05,366.05 L255.05,365.55 L255.05,365.06 L255.05,364.56 L255.05,364.06 L255.05,363.57 L255.05,363.07 L255.05,362.57 L255.05,362.07 L255.05,361.58 L255.05,361.08 L255.05,360.58 L255.05,360.09 L255.05,359.59 L255.05,359.09 L255.05,358.59 L255.05,358.10 L255.05,357.60 L255.05,357.10 L255.05,356.61 L255.05,356.11 L255.05,355.61 L255.05,355.11 L255.05,354.62 L255.05,354.12 L255.05,353.62 L255.05,353.13 L255.05,352.63 L255.05,352.13 L255.05,351.63 L255.05,351.14 L255.05,350.64 L255.05,350.14 L255.05,349.65 L255.05,349.15 L255.05,348.65 L255.05,348.15 L255.05,347.66 L255.05,347.16 L255.05,346.66 L255.05,346.17 L255.05,345.67 L255.05,345.17 L255.05,344.67 L255.05,344.18 L255.05,343.68 L255.05,343.18 L255.05,342.69 L255.05,342.19 L255.05,341.69 L255.05,341.19 L255.05,340.70 L255.05,340.20 L255.05,339.70 L255.05,339.21 L255.05,338.71 L255.05,338.21 L255.05,337.71 L255.05,337.22 L255.05,336.72 L255.05,336.22 L255.05,335.73 L255.05,335.23 L255.05,334.73 L255.05,334.23 L255.05,333.74 L255.05,333.24 L255.05,332.74 L255.05,332.25 L255.05,331.75 L255.05,331.25 L255.05,330.75 L255.05,330.26 L255.05,329.76 L255.05,329.26 L255.05,328.77 L255.05,328.27 L255.05,327.77 L255.05,327.27 L255.05,326.78 L255.05,326.28 L255.05,325.78 L255.05,325.29 L255.05,324.79 L255.05,324.29 L255.05,323.79 L255.05,323.30 L255.05,322.80 Z" fill="#e2d3e7" stroke="#7f6787" stroke-width="1.45" stroke-linejoin="round"/>
<line x1="248.48" y1="409.8" x2="261.92" y2="409.8" stroke="#666" stroke-opacity="0.6" stroke-width="1.2" stroke-dasharray="1.8 2.2"/>
<path d="M284.45,299.30 L284.45,299.79 L284.45,300.27 L284.45,300.76 L284.45,301.25 L284.45,301.73 L284.45,302.22 L284.45,302.71 L284.45,303.20 L284.45,303.68 L284.45,304.17 L284.45,304.66 L284.45,305.14 L284.45,305.63 L284.45,306.12 L284.45,306.60 L284.45,307.09 L284.45,307.58 L284.45,308.07 L284.45,308.55 L284.45,309.04 L284.45,309.53 L284.45,310.01 L284.45,310.50 L284.45,311.00 L284.58,311.50 L284.78,312.00 L284.98,312.50 L285.16,313.00 L285.30,313.50 L285.40,314.00 L285.49,314.50 L285.56,315.00 L285.61,315.50 L285.64,316.00 L285.65,316.50 L285.64,317.00 L285.61,317.50 L285.55,318.00 L285.48,318.50 L285.40,319.00 L285.30,319.50 L285.18,319.97 L285.03,320.44 L284.86,320.91 L284.69,321.39 L284.53,321.86 L284.45,322.33 L284.45,322.80 L284.45,323.30 L284.45,323.79 L284.45,324.29 L284.45,324.79 L284.45,325.29 L284.45,325.78 L284.45,326.28 L284.45,326.78 L284.45,327.28 L284.45,327.77 L284.45,328.27 L284.45,328.77 L284.45,329.27 L284.45,329.76 L284.45,330.26 L284.45,330.76 L284.45,331.26 L284.45,331.75 L284.45,332.25 L284.45,332.75 L284.45,333.25 L284.45,333.74 L284.45,334.24 L284.45,334.74 L284.45,335.24 L284.45,335.73 L284.45,336.23 L284.45,336.73 L284.45,337.22 L284.45,337.72 L284.45,338.22 L284.45,338.72 L284.45,339.21 L284.45,339.71 L284.45,340.21 L284.45,340.71 L284.45,341.20 L284.45,341.70 L284.45,342.20 L284.45,342.70 L284.45,343.19 L284.45,343.69 L284.45,344.19 L284.45,344.69 L284.45,345.18 L284.45,345.68 L284.45,346.18 L284.45,346.68 L284.45,347.17 L284.45,347.67 L284.45,348.17 L284.45,348.66 L284.45,349.16 L284.45,349.66 L284.45,350.16 L284.45,350.65 L284.45,351.15 L284.45,351.65 L284.45,352.15 L284.45,352.64 L284.45,353.14 L284.45,353.64 L284.45,354.14 L284.45,354.63 L284.45,355.13 L284.45,355.63 L284.45,356.13 L284.45,356.62 L284.45,357.12 L284.45,357.62 L284.45,358.12 L284.45,358.61 L284.45,359.11 L284.45,359.61 L284.45,360.11 L284.45,360.60 L284.45,361.10 L284.45,361.58 L284.61,362.07 L284.82,362.55 L285.04,363.03 L285.24,363.52 L285.40,364.00 L285.52,364.47 L285.64,364.94 L285.74,365.41 L285.82,365.89 L285.88,366.36 L285.93,366.83 L285.95,367.30 L285.94,367.76 L285.91,368.21 L285.85,368.67 L285.78,369.13 L285.71,369.59 L285.63,370.04 L285.55,370.50 L285.47,370.98 L285.37,371.47 L285.27,371.95 L285.17,372.43 L285.07,372.92 L285.00,373.40 L284.93,373.90 L284.87,374.40 L284.81,374.90 L284.75,375.40 L284.69,375.90 L284.65,376.40 L284.61,376.90 L284.59,377.40 L284.58,377.90 L284.58,378.40 L284.60,378.90 L284.64,379.40 L284.70,379.90 L284.78,380.40 L284.87,380.90 L284.98,381.40 L285.09,381.90 L285.20,382.40 L285.32,382.90 L285.44,383.40 L285.55,383.90 L285.65,384.40 L285.75,384.88 L285.85,385.35 L285.95,385.83 L286.06,386.31 L286.17,386.78 L286.28,387.26 L286.38,387.74 L286.49,388.22 L286.58,388.69 L286.67,389.17 L286.76,389.65 L286.83,390.12 L286.90,390.60 L286.95,391.07 L286.97,391.54 L286.97,392.01 L286.96,392.48 L286.95,392.95 L286.93,393.42 L286.92,393.88 L286.91,394.35 L286.92,394.82 L286.95,395.29 L287.00,395.76 L287.08,396.23 L287.20,396.70 L287.37,397.19 L287.58,397.68 L287.82,398.17 L288.09,398.66 L288.38,399.15 L288.68,399.64 L288.98,400.13 L289.27,400.62 L289.55,401.11 L289.80,401.60 L290.04,402.09 L290.27,402.58 L290.51,403.07 L290.74,403.56 L290.96,404.05 L291.18,404.54 L291.38,405.03 L291.58,405.52 L291.77,406.01 L291.95,406.50 L292.11,406.96 L292.25,407.43 L292.38,407.89 L292.50,408.35 L292.62,408.81 L292.72,409.27 L292.81,409.74 L292.90,410.20 L292.98,410.64 L293.04,411.09 L293.10,411.53 L293.15,411.97 L293.19,412.41 L293.20,412.86 L293.20,413.30 L293.16,413.77 L293.08,414.25 L292.99,414.73 L292.90,415.20 L275.70,415.20 L275.61,414.73 L275.52,414.25 L275.44,413.77 L275.40,413.30 L275.40,412.86 L275.41,412.41 L275.45,411.97 L275.50,411.53 L275.56,411.09 L275.62,410.64 L275.70,410.20 L275.79,409.74 L275.88,409.27 L275.98,408.81 L276.10,408.35 L276.22,407.89 L276.35,407.43 L276.49,406.96 L276.65,406.50 L276.83,406.01 L277.02,405.52 L277.22,405.03 L277.42,404.54 L277.64,404.05 L277.86,403.56 L278.09,403.07 L278.33,402.58 L278.56,402.09 L278.80,401.60 L279.05,401.11 L279.33,400.62 L279.62,400.13 L279.92,399.64 L280.22,399.15 L280.51,398.66 L280.78,398.17 L281.02,397.68 L281.23,397.19 L281.40,396.70 L281.52,396.23 L281.60,395.76 L281.65,395.29 L281.68,394.82 L281.69,394.35 L281.68,393.88 L281.67,393.42 L281.65,392.95 L281.64,392.48 L281.63,392.01 L281.63,391.54 L281.65,391.07 L281.70,390.60 L281.77,390.12 L281.84,389.65 L281.93,389.17 L282.02,388.69 L282.11,388.22 L282.22,387.74 L282.32,387.26 L282.43,386.78 L282.54,386.31 L282.65,385.83 L282.75,385.35 L282.85,384.88 L282.95,384.40 L283.05,383.90 L283.16,383.40 L283.28,382.90 L283.40,382.40 L283.51,381.90 L283.62,381.40 L283.73,380.90 L283.82,380.40 L283.90,379.90 L283.96,379.40 L284.00,378.90 L284.02,378.40 L284.02,377.90 L284.01,377.40 L283.99,376.90 L283.95,376.40 L283.91,375.90 L283.85,375.40 L283.79,374.90 L283.73,374.40 L283.67,373.90 L283.60,373.40 L283.53,372.92 L283.43,372.43 L283.33,371.95 L283.23,371.47 L283.13,370.98 L283.05,370.50 L282.97,370.04 L282.89,369.59 L282.82,369.13 L282.75,368.67 L282.69,368.21 L282.66,367.76 L282.65,367.30 L282.67,366.83 L282.72,366.36 L282.78,365.89 L282.86,365.41 L282.96,364.94 L283.08,364.47 L283.20,364.00 L283.36,363.52 L283.56,363.03 L283.78,362.55 L283.99,362.07 L284.15,361.58 L284.15,361.10 L284.15,360.60 L284.15,360.11 L284.15,359.61 L284.15,359.11 L284.15,358.61 L284.15,358.12 L284.15,357.62 L284.15,357.12 L284.15,356.62 L284.15,356.13 L284.15,355.63 L284.15,355.13 L284.15,354.63 L284.15,354.14 L284.15,353.64 L284.15,353.14 L284.15,352.64 L284.15,352.15 L284.15,351.65 L284.15,351.15 L284.15,350.65 L284.15,350.16 L284.15,349.66 L284.15,349.16 L284.15,348.66 L284.15,348.17 L284.15,347.67 L284.15,347.17 L284.15,346.68 L284.15,346.18 L284.15,345.68 L284.15,345.18 L284.15,344.69 L284.15,344.19 L284.15,343.69 L284.15,343.19 L284.15,342.70 L284.15,342.20 L284.15,341.70 L284.15,341.20 L284.15,340.71 L284.15,340.21 L284.15,339.71 L284.15,339.21 L284.15,338.72 L284.15,338.22 L284.15,337.72 L284.15,337.22 L284.15,336.73 L284.15,336.23 L284.15,335.73 L284.15,335.24 L284.15,334.74 L284.15,334.24 L284.15,333.74 L284.15,333.25 L284.15,332.75 L284.15,332.25 L284.15,331.75 L284.15,331.26 L284.15,330.76 L284.15,330.26 L284.15,329.76 L284.15,329.27 L284.15,328.77 L284.15,328.27 L284.15,327.77 L284.15,327.28 L284.15,326.78 L284.15,326.28 L284.15,325.78 L284.15,325.29 L284.15,324.79 L284.15,324.29 L284.15,323.79 L284.15,323.30 L284.15,322.80 L284.15,322.33 L284.07,321.86 L283.91,321.39 L283.74,320.91 L283.57,320.44 L283.42,319.97 L283.30,319.50 L283.20,319.00 L283.12,318.50 L283.05,318.00 L282.99,317.50 L282.96,317.00 L282.95,316.50 L282.96,316.00 L282.99,315.50 L283.04,315.00 L283.11,314.50 L283.20,314.00 L283.30,313.50 L283.44,313.00 L283.62,312.50 L283.82,312.00 L284.02,311.50 L284.15,311.00 L284.15,310.50 L284.15,310.01 L284.15,309.53 L284.15,309.04 L284.15,308.55 L284.15,308.07 L284.15,307.58 L284.15,307.09 L284.15,306.60 L284.15,306.12 L284.15,305.63 L284.15,305.14 L284.15,304.66 L284.15,304.17 L284.15,303.68 L284.15,303.20 L284.15,302.71 L284.15,302.22 L284.15,301.73 L284.15,301.25 L284.15,300.76 L284.15,300.27 L284.15,299.79 L284.15,299.30 Z" fill="#e4f1fa" stroke="#6aa6cc" stroke-width="1.45" stroke-linejoin="round"/>
<line x1="276.99" y1="408" x2="291.61" y2="408" stroke="#666" stroke-opacity="0.6" stroke-width="1.2" stroke-dasharray="1.8 2.2"/>
<path d="M313.50,349.30 L313.50,349.78 L313.50,350.26 L313.50,350.73 L313.50,351.21 L313.50,351.69 L313.50,352.17 L313.50,352.64 L313.50,353.12 L313.50,353.60 L313.50,354.08 L313.50,354.56 L313.50,355.03 L313.50,355.51 L313.50,355.99 L313.50,356.47 L313.50,356.94 L313.50,357.42 L313.50,357.90 L313.63,358.35 L314.01,358.80 L314.47,359.25 L314.96,359.70 L315.45,360.15 L315.90,360.60 L316.33,361.05 L316.76,361.50 L317.20,361.95 L317.63,362.40 L318.06,362.85 L318.46,363.30 L318.85,363.75 L319.23,364.20 L319.60,364.65 L319.97,365.10 L320.31,365.55 L320.63,366.00 L320.91,366.45 L321.15,366.90 L321.33,367.34 L321.47,367.79 L321.57,368.23 L321.65,368.67 L321.71,369.11 L321.75,369.56 L321.80,370.00 L321.84,370.47 L321.87,370.94 L321.89,371.41 L321.90,371.88 L321.89,372.35 L321.89,372.82 L321.88,373.29 L321.87,373.76 L321.86,374.23 L321.85,374.70 L321.84,375.19 L321.82,375.68 L321.80,376.16 L321.78,376.65 L321.76,377.14 L321.75,377.62 L321.74,378.11 L321.75,378.60 L321.79,379.08 L321.86,379.56 L321.92,380.04 L321.96,380.52 L321.95,381.00 L321.87,381.46 L321.75,381.93 L321.59,382.39 L321.41,382.85 L321.23,383.31 L321.07,383.77 L320.94,384.24 L320.85,384.70 L320.80,385.19 L320.78,385.68 L320.78,386.17 L320.81,386.66 L320.84,387.14 L320.88,387.63 L320.92,388.12 L320.97,388.61 L321.00,389.10 L321.04,389.56 L321.10,390.03 L321.17,390.49 L321.24,390.95 L321.30,391.41 L321.34,391.88 L321.34,392.34 L321.30,392.80 L321.21,393.30 L321.09,393.80 L320.93,394.30 L320.73,394.80 L320.49,395.30 L320.20,395.80 L319.85,396.28 L319.44,396.77 L318.99,397.25 L318.52,397.73 L318.05,398.22 L317.60,398.70 L317.15,399.20 L316.69,399.70 L316.24,400.20 L315.80,400.70 L315.38,401.20 L315.00,401.70 L314.69,402.14 L314.41,402.58 L314.16,403.02 L313.94,403.46 L313.75,403.90 L313.61,404.32 L313.51,404.74 L313.50,405.16 L313.50,405.58 L313.50,406.00 L313.50,406.48 L313.50,406.95 L313.50,407.43 L313.50,407.90 L313.50,408.38 L313.50,408.85 L313.50,409.32 L313.50,409.80 L313.50,410.28 L313.50,410.75 L313.50,411.23 L313.50,411.70 L313.50,412.18 L313.50,412.65 L313.50,413.12 L313.50,413.60 L313.20,413.60 L313.20,413.12 L313.20,412.65 L313.20,412.18 L313.20,411.70 L313.20,411.23 L313.20,410.75 L313.20,410.28 L313.20,409.80 L313.20,409.32 L313.20,408.85 L313.20,408.38 L313.20,407.90 L313.20,407.43 L313.20,406.95 L313.20,406.48 L313.20,406.00 L313.20,405.58 L313.20,405.16 L313.19,404.74 L313.09,404.32 L312.95,403.90 L312.76,403.46 L312.54,403.02 L312.29,402.58 L312.01,402.14 L311.70,401.70 L311.32,401.20 L310.90,400.70 L310.46,400.20 L310.01,399.70 L309.55,399.20 L309.10,398.70 L308.65,398.22 L308.18,397.73 L307.71,397.25 L307.26,396.77 L306.85,396.28 L306.50,395.80 L306.21,395.30 L305.97,394.80 L305.77,394.30 L305.61,393.80 L305.49,393.30 L305.40,392.80 L305.36,392.34 L305.36,391.88 L305.40,391.41 L305.46,390.95 L305.53,390.49 L305.60,390.03 L305.66,389.56 L305.70,389.10 L305.73,388.61 L305.78,388.12 L305.82,387.63 L305.86,387.14 L305.89,386.66 L305.92,386.17 L305.92,385.68 L305.90,385.19 L305.85,384.70 L305.76,384.24 L305.63,383.77 L305.47,383.31 L305.29,382.85 L305.11,382.39 L304.95,381.93 L304.83,381.46 L304.75,381.00 L304.74,380.52 L304.78,380.04 L304.84,379.56 L304.91,379.08 L304.95,378.60 L304.96,378.11 L304.95,377.62 L304.94,377.14 L304.92,376.65 L304.90,376.16 L304.88,375.68 L304.86,375.19 L304.85,374.70 L304.84,374.23 L304.83,373.76 L304.82,373.29 L304.81,372.82 L304.81,372.35 L304.80,371.88 L304.81,371.41 L304.83,370.94 L304.86,370.47 L304.90,370.00 L304.95,369.56 L304.99,369.11 L305.05,368.67 L305.13,368.23 L305.23,367.79 L305.37,367.34 L305.55,366.90 L305.79,366.45 L306.07,366.00 L306.39,365.55 L306.73,365.10 L307.10,364.65 L307.47,364.20 L307.85,363.75 L308.24,363.30 L308.64,362.85 L309.07,362.40 L309.50,361.95 L309.94,361.50 L310.37,361.05 L310.80,360.60 L311.25,360.15 L311.74,359.70 L312.23,359.25 L312.69,358.80 L313.07,358.35 L313.20,357.90 L313.20,357.42 L313.20,356.94 L313.20,356.47 L313.20,355.99 L313.20,355.51 L313.20,355.03 L313.20,354.56 L313.20,354.08 L313.20,353.60 L313.20,353.12 L313.20,352.64 L313.20,352.17 L313.20,351.69 L313.20,351.21 L313.20,350.73 L313.20,350.26 L313.20,349.78 L313.20,349.30 Z" fill="#d6ddd9" stroke="#6c8479" stroke-width="1.45" stroke-linejoin="round"/>
<line x1="305.55" y1="381.0" x2="321.15" y2="381.0" stroke="#666" stroke-opacity="0.6" stroke-width="1.2" stroke-dasharray="1.8 2.2"/>
<path d="M435.25,308.80 L435.25,309.30 L435.25,309.80 L435.25,310.29 L435.25,310.79 L435.25,311.29 L435.25,311.79 L435.25,312.28 L435.25,312.78 L435.25,313.28 L435.25,313.78 L435.25,314.27 L435.25,314.77 L435.25,315.27 L435.25,315.77 L435.25,316.26 L435.25,316.76 L435.25,317.26 L435.25,317.76 L435.25,318.25 L435.25,318.75 L435.25,319.25 L435.25,319.75 L435.25,320.24 L435.25,320.74 L435.25,321.24 L435.25,321.74 L435.25,322.23 L435.25,322.73 L435.25,323.23 L435.25,323.73 L435.25,324.22 L435.25,324.72 L435.25,325.22 L435.25,325.72 L435.25,326.21 L435.25,326.71 L435.25,327.21 L435.25,327.71 L435.25,328.20 L435.25,328.70 L435.25,329.20 L435.25,329.70 L435.25,330.19 L435.25,330.69 L435.25,331.19 L435.25,331.69 L435.25,332.18 L435.25,332.68 L435.25,333.18 L435.25,333.68 L435.25,334.17 L435.25,334.67 L435.25,335.17 L435.25,335.67 L435.25,336.16 L435.25,336.66 L435.25,337.16 L435.25,337.66 L435.25,338.15 L435.25,338.65 L435.25,339.15 L435.25,339.65 L435.25,340.14 L435.25,340.64 L435.25,341.14 L435.25,341.64 L435.25,342.13 L435.25,342.63 L435.25,343.13 L435.25,343.63 L435.25,344.12 L435.25,344.62 L435.25,345.12 L435.25,345.62 L435.25,346.11 L435.25,346.61 L435.25,347.11 L435.25,347.61 L435.25,348.10 L435.25,348.60 L435.25,349.10 L435.25,349.60 L435.25,350.09 L435.25,350.59 L435.25,351.09 L435.25,351.59 L435.25,352.08 L435.25,352.58 L435.25,353.08 L435.25,353.58 L435.25,354.07 L435.25,354.57 L435.25,355.07 L435.25,355.57 L435.25,356.06 L435.25,356.56 L435.25,357.06 L435.25,357.56 L435.25,358.05 L435.25,358.55 L435.25,359.05 L435.25,359.55 L435.25,360.04 L435.25,360.54 L435.25,361.04 L435.25,361.54 L435.25,362.03 L435.25,362.53 L435.25,363.03 L435.25,363.53 L435.25,364.02 L435.25,364.52 L435.25,365.02 L435.25,365.52 L435.25,366.01 L435.25,366.51 L435.25,367.01 L435.25,367.51 L435.25,368.00 L435.25,368.50 L435.25,369.00 L435.25,369.50 L435.25,370.00 L435.35,370.50 L435.45,371.00 L435.54,371.50 L435.60,372.00 L435.64,372.50 L435.67,373.00 L435.70,373.50 L435.72,374.00 L435.74,374.50 L435.75,375.00 L435.76,375.50 L435.76,376.00 L435.76,376.50 L435.76,377.00 L435.76,377.50 L435.75,378.00 L435.74,378.50 L435.73,379.00 L435.72,379.50 L435.71,380.00 L435.70,380.50 L435.69,381.00 L435.68,381.50 L435.67,382.00 L435.66,382.50 L435.66,383.00 L435.65,383.50 L435.66,384.00 L435.66,384.50 L435.67,385.00 L435.68,385.50 L435.70,386.00 L435.73,386.45 L435.77,386.90 L435.82,387.35 L435.86,387.80 L435.89,388.25 L435.90,388.70 L435.87,389.18 L435.81,389.65 L435.74,390.12 L435.65,390.60 L435.57,391.07 L435.51,391.55 L435.48,392.02 L435.50,392.50 L435.56,392.96 L435.67,393.42 L435.80,393.88 L435.95,394.34 L436.12,394.80 L436.29,395.26 L436.45,395.72 L436.59,396.18 L436.71,396.64 L436.80,397.10 L436.83,397.58 L436.82,398.05 L436.77,398.52 L436.71,399.00 L436.66,399.48 L436.64,399.95 L436.68,400.42 L436.80,400.90 L436.99,401.36 L437.24,401.82 L437.54,402.29 L437.88,402.75 L438.24,403.21 L438.60,403.68 L438.96,404.14 L439.30,404.60 L439.64,405.08 L440.00,405.55 L440.37,406.02 L440.73,406.50 L441.10,406.98 L441.45,407.45 L441.78,407.92 L442.10,408.40 L442.39,408.87 L442.68,409.33 L442.94,409.80 L443.19,410.27 L443.41,410.73 L443.60,411.20 L443.77,411.68 L443.91,412.16 L444.02,412.64 L444.08,413.12 L444.10,413.60 L444.05,414.00 L443.95,414.40 L443.82,414.80 L443.70,415.20 L426.50,415.20 L426.38,414.80 L426.25,414.40 L426.15,414.00 L426.10,413.60 L426.12,413.12 L426.18,412.64 L426.29,412.16 L426.43,411.68 L426.60,411.20 L426.79,410.73 L427.01,410.27 L427.26,409.80 L427.52,409.33 L427.81,408.87 L428.10,408.40 L428.42,407.92 L428.75,407.45 L429.10,406.98 L429.47,406.50 L429.83,406.02 L430.20,405.55 L430.56,405.08 L430.90,404.60 L431.24,404.14 L431.60,403.68 L431.96,403.21 L432.32,402.75 L432.66,402.29 L432.96,401.82 L433.21,401.36 L433.40,400.90 L433.52,400.42 L433.56,399.95 L433.54,399.48 L433.49,399.00 L433.43,398.52 L433.38,398.05 L433.37,397.58 L433.40,397.10 L433.49,396.64 L433.61,396.18 L433.75,395.72 L433.91,395.26 L434.08,394.80 L434.25,394.34 L434.40,393.88 L434.53,393.42 L434.64,392.96 L434.70,392.50 L434.72,392.02 L434.69,391.55 L434.63,391.07 L434.55,390.60 L434.46,390.12 L434.39,389.65 L434.33,389.18 L434.30,388.70 L434.31,388.25 L434.34,387.80 L434.38,387.35 L434.43,386.90 L434.47,386.45 L434.50,386.00 L434.52,385.50 L434.53,385.00 L434.54,384.50 L434.54,384.00 L434.55,383.50 L434.54,383.00 L434.54,382.50 L434.53,382.00 L434.52,381.50 L434.51,381.00 L434.50,380.50 L434.49,380.00 L434.48,379.50 L434.47,379.00 L434.46,378.50 L434.45,378.00 L434.44,377.50 L434.44,377.00 L434.44,376.50 L434.44,376.00 L434.44,375.50 L434.45,375.00 L434.46,374.50 L434.48,374.00 L434.50,373.50 L434.53,373.00 L434.56,372.50 L434.60,372.00 L434.66,371.50 L434.75,371.00 L434.85,370.50 L434.95,370.00 L434.95,369.50 L434.95,369.00 L434.95,368.50 L434.95,368.00 L434.95,367.51 L434.95,367.01 L434.95,366.51 L434.95,366.01 L434.95,365.52 L434.95,365.02 L434.95,364.52 L434.95,364.02 L434.95,363.53 L434.95,363.03 L434.95,362.53 L434.95,362.03 L434.95,361.54 L434.95,361.04 L434.95,360.54 L434.95,360.04 L434.95,359.55 L434.95,359.05 L434.95,358.55 L434.95,358.05 L434.95,357.56 L434.95,357.06 L434.95,356.56 L434.95,356.06 L434.95,355.57 L434.95,355.07 L434.95,354.57 L434.95,354.07 L434.95,353.58 L434.95,353.08 L434.95,352.58 L434.95,352.08 L434.95,351.59 L434.95,351.09 L434.95,350.59 L434.95,350.09 L434.95,349.60 L434.95,349.10 L434.95,348.60 L434.95,348.10 L434.95,347.61 L434.95,347.11 L434.95,346.61 L434.95,346.11 L434.95,345.62 L434.95,345.12 L434.95,344.62 L434.95,344.12 L434.95,343.63 L434.95,343.13 L434.95,342.63 L434.95,342.13 L434.95,341.64 L434.95,341.14 L434.95,340.64 L434.95,340.14 L434.95,339.65 L434.95,339.15 L434.95,338.65 L434.95,338.15 L434.95,337.66 L434.95,337.16 L434.95,336.66 L434.95,336.16 L434.95,335.67 L434.95,335.17 L434.95,334.67 L434.95,334.17 L434.95,333.68 L434.95,333.18 L434.95,332.68 L434.95,332.18 L434.95,331.69 L434.95,331.19 L434.95,330.69 L434.95,330.19 L434.95,329.70 L434.95,329.20 L434.95,328.70 L434.95,328.20 L434.95,327.71 L434.95,327.21 L434.95,326.71 L434.95,326.21 L434.95,325.72 L434.95,325.22 L434.95,324.72 L434.95,324.22 L434.95,323.73 L434.95,323.23 L434.95,322.73 L434.95,322.23 L434.95,321.74 L434.95,321.24 L434.95,320.74 L434.95,320.24 L434.95,319.75 L434.95,319.25 L434.95,318.75 L434.95,318.25 L434.95,317.76 L434.95,317.26 L434.95,316.76 L434.95,316.26 L434.95,315.77 L434.95,315.27 L434.95,314.77 L434.95,314.27 L434.95,313.78 L434.95,313.28 L434.95,312.78 L434.95,312.28 L434.95,311.79 L434.95,311.29 L434.95,310.79 L434.95,310.29 L434.95,309.80 L434.95,309.30 L434.95,308.80 Z" fill="#e2d3e7" stroke="#7f6787" stroke-width="1.45" stroke-linejoin="round"/>
<line x1="428.06" y1="409.8" x2="442.14" y2="409.8" stroke="#666" stroke-opacity="0.6" stroke-width="1.2" stroke-dasharray="1.8 2.2"/>
<path d="M465.25,308.90 L465.25,309.39 L465.25,309.87 L465.25,310.36 L465.25,310.85 L465.25,311.33 L465.25,311.82 L465.25,312.31 L465.25,312.79 L465.25,313.28 L465.25,313.77 L465.25,314.25 L465.25,314.74 L465.25,315.23 L465.25,315.71 L465.25,316.20 L465.25,316.69 L465.25,317.17 L465.25,317.66 L465.25,318.15 L465.25,318.63 L465.25,319.12 L465.25,319.61 L465.25,320.09 L465.25,320.58 L465.25,321.07 L465.25,321.55 L465.25,322.04 L465.25,322.53 L465.25,323.01 L465.25,323.50 L465.25,324.00 L465.36,324.50 L465.53,325.00 L465.71,325.50 L465.88,326.00 L466.00,326.50 L466.09,327.00 L466.16,327.50 L466.21,328.00 L466.25,328.50 L466.28,329.00 L466.30,329.50 L466.30,330.00 L466.30,330.50 L466.28,331.00 L466.25,331.50 L466.21,332.00 L466.16,332.50 L466.09,333.00 L466.00,333.50 L465.88,334.00 L465.71,334.50 L465.53,335.00 L465.36,335.50 L465.25,336.00 L465.25,336.50 L465.25,336.99 L465.25,337.49 L465.25,337.98 L465.25,338.48 L465.25,338.97 L465.25,339.46 L465.25,339.96 L465.25,340.45 L465.25,340.95 L465.25,341.44 L465.25,341.93 L465.25,342.43 L465.25,342.92 L465.25,343.42 L465.25,343.91 L465.25,344.40 L465.25,344.90 L465.25,345.39 L465.25,345.89 L465.25,346.38 L465.25,346.87 L465.25,347.37 L465.25,347.86 L465.25,348.36 L465.25,348.85 L465.25,349.34 L465.25,349.84 L465.25,350.33 L465.25,350.83 L465.25,351.32 L465.25,351.81 L465.25,352.31 L465.25,352.80 L465.25,353.30 L465.25,353.79 L465.25,354.29 L465.25,354.78 L465.25,355.27 L465.25,355.77 L465.25,356.26 L465.25,356.76 L465.25,357.25 L465.25,357.74 L465.25,358.24 L465.25,358.73 L465.25,359.23 L465.25,359.72 L465.25,360.21 L465.25,360.71 L465.25,361.20 L465.25,361.70 L465.25,362.19 L465.25,362.68 L465.25,363.18 L465.25,363.67 L465.25,364.17 L465.25,364.66 L465.25,365.15 L465.25,365.65 L465.25,366.14 L465.25,366.64 L465.25,367.13 L465.25,367.62 L465.25,368.12 L465.25,368.61 L465.25,369.11 L465.25,369.60 L465.25,370.07 L465.38,370.54 L465.57,371.01 L465.79,371.49 L466.00,371.96 L466.21,372.43 L466.40,372.90 L466.59,373.40 L466.77,373.90 L466.96,374.40 L467.15,374.90 L467.34,375.40 L467.52,375.90 L467.69,376.40 L467.86,376.90 L468.02,377.40 L468.17,377.90 L468.30,378.40 L468.42,378.89 L468.54,379.38 L468.65,379.87 L468.75,380.36 L468.85,380.85 L468.94,381.35 L469.01,381.84 L469.08,382.33 L469.13,382.82 L469.17,383.31 L469.20,383.80 L469.21,384.30 L469.21,384.80 L469.18,385.30 L469.15,385.80 L469.10,386.30 L469.05,386.80 L468.99,387.30 L468.93,387.80 L468.87,388.30 L468.81,388.80 L468.75,389.30 L468.69,389.80 L468.61,390.30 L468.53,390.80 L468.44,391.30 L468.35,391.80 L468.26,392.30 L468.18,392.80 L468.11,393.30 L468.06,393.80 L468.02,394.30 L468.00,394.80 L468.00,395.28 L468.00,395.76 L468.02,396.23 L468.04,396.71 L468.09,397.19 L468.15,397.67 L468.24,398.14 L468.36,398.62 L468.50,399.10 L468.69,399.59 L468.91,400.08 L469.17,400.57 L469.45,401.06 L469.75,401.54 L470.06,402.03 L470.36,402.52 L470.66,403.01 L470.95,403.50 L471.23,403.97 L471.52,404.44 L471.81,404.91 L472.10,405.39 L472.38,405.86 L472.63,406.33 L472.85,406.80 L473.03,407.26 L473.18,407.71 L473.31,408.17 L473.43,408.63 L473.53,409.09 L473.62,409.54 L473.70,410.00 L473.78,410.47 L473.85,410.94 L473.91,411.41 L473.96,411.89 L473.99,412.36 L474.01,412.83 L474.00,413.30 L473.96,413.77 L473.88,414.25 L473.79,414.73 L473.70,415.20 L456.50,415.20 L456.41,414.73 L456.32,414.25 L456.24,413.77 L456.20,413.30 L456.19,412.83 L456.21,412.36 L456.24,411.89 L456.29,411.41 L456.35,410.94 L456.42,410.47 L456.50,410.00 L456.58,409.54 L456.67,409.09 L456.77,408.63 L456.89,408.17 L457.02,407.71 L457.17,407.26 L457.35,406.80 L457.57,406.33 L457.82,405.86 L458.10,405.39 L458.39,404.91 L458.68,404.44 L458.97,403.97 L459.25,403.50 L459.54,403.01 L459.84,402.52 L460.14,402.03 L460.45,401.54 L460.75,401.06 L461.03,400.57 L461.29,400.08 L461.51,399.59 L461.70,399.10 L461.84,398.62 L461.96,398.14 L462.05,397.67 L462.11,397.19 L462.16,396.71 L462.18,396.23 L462.20,395.76 L462.20,395.28 L462.20,394.80 L462.18,394.30 L462.14,393.80 L462.09,393.30 L462.02,392.80 L461.94,392.30 L461.85,391.80 L461.76,391.30 L461.67,390.80 L461.59,390.30 L461.51,389.80 L461.45,389.30 L461.39,388.80 L461.33,388.30 L461.27,387.80 L461.21,387.30 L461.15,386.80 L461.10,386.30 L461.05,385.80 L461.02,385.30 L460.99,384.80 L460.99,384.30 L461.00,383.80 L461.03,383.31 L461.07,382.82 L461.12,382.33 L461.19,381.84 L461.26,381.35 L461.35,380.85 L461.45,380.36 L461.55,379.87 L461.66,379.38 L461.78,378.89 L461.90,378.40 L462.03,377.90 L462.18,377.40 L462.34,376.90 L462.51,376.40 L462.68,375.90 L462.86,375.40 L463.05,374.90 L463.24,374.40 L463.43,373.90 L463.61,373.40 L463.80,372.90 L463.99,372.43 L464.20,371.96 L464.41,371.49 L464.63,371.01 L464.82,370.54 L464.95,370.07 L464.95,369.60 L464.95,369.11 L464.95,368.61 L464.95,368.12 L464.95,367.62 L464.95,367.13 L464.95,366.64 L464.95,366.14 L464.95,365.65 L464.95,365.15 L464.95,364.66 L464.95,364.17 L464.95,363.67 L464.95,363.18 L464.95,362.68 L464.95,362.19 L464.95,361.70 L464.95,361.20 L464.95,360.71 L464.95,360.21 L464.95,359.72 L464.95,359.23 L464.95,358.73 L464.95,358.24 L464.95,357.74 L464.95,357.25 L464.95,356.76 L464.95,356.26 L464.95,355.77 L464.95,355.27 L464.95,354.78 L464.95,354.29 L464.95,353.79 L464.95,353.30 L464.95,352.80 L464.95,352.31 L464.95,351.81 L464.95,351.32 L464.95,350.83 L464.95,350.33 L464.95,349.84 L464.95,349.34 L464.95,348.85 L464.95,348.36 L464.95,347.86 L464.95,347.37 L464.95,346.87 L464.95,346.38 L464.95,345.89 L464.95,345.39 L464.95,344.90 L464.95,344.40 L464.95,343.91 L464.95,343.42 L464.95,342.92 L464.95,342.43 L464.95,341.93 L464.95,341.44 L464.95,340.95 L464.95,340.45 L464.95,339.96 L464.95,339.46 L464.95,338.97 L464.95,338.48 L464.95,337.98 L464.95,337.49 L464.95,336.99 L464.95,336.50 L464.95,336.00 L464.84,335.50 L464.67,335.00 L464.49,334.50 L464.32,334.00 L464.20,333.50 L464.11,333.00 L464.04,332.50 L463.99,332.00 L463.95,331.50 L463.92,331.00 L463.90,330.50 L463.90,330.00 L463.90,329.50 L463.92,329.00 L463.95,328.50 L463.99,328.00 L464.04,327.50 L464.11,327.00 L464.20,326.50 L464.32,326.00 L464.49,325.50 L464.67,325.00 L464.84,324.50 L464.95,324.00 L464.95,323.50 L464.95,323.01 L464.95,322.53 L464.95,322.04 L464.95,321.55 L464.95,321.07 L464.95,320.58 L464.95,320.09 L464.95,319.61 L464.95,319.12 L464.95,318.63 L464.95,318.15 L464.95,317.66 L464.95,317.17 L464.95,316.69 L464.95,316.20 L464.95,315.71 L464.95,315.23 L464.95,314.74 L464.95,314.25 L464.95,313.77 L464.95,313.28 L464.95,312.79 L464.95,312.31 L464.95,311.82 L464.95,311.33 L464.95,310.85 L464.95,310.36 L464.95,309.87 L464.95,309.39 L464.95,308.90 Z" fill="#e4f1fa" stroke="#6aa6cc" stroke-width="1.45" stroke-linejoin="round"/>
<line x1="457.56" y1="408.7" x2="472.64" y2="408.7" stroke="#666" stroke-opacity="0.6" stroke-width="1.2" stroke-dasharray="1.8 2.2"/>
<path d="M495.20,333.70 L495.20,334.19 L495.20,334.69 L495.20,335.18 L495.20,335.68 L495.20,336.17 L495.20,336.67 L495.20,337.16 L495.20,337.66 L495.20,338.15 L495.20,338.65 L495.20,339.14 L495.20,339.64 L495.20,340.13 L495.20,340.63 L495.20,341.12 L495.20,341.62 L495.20,342.11 L495.20,342.61 L495.20,343.10 L495.23,343.57 L495.48,344.04 L495.77,344.51 L496.10,344.99 L496.44,345.46 L496.78,345.93 L497.10,346.40 L497.41,346.86 L497.72,347.31 L498.04,347.77 L498.37,348.22 L498.69,348.68 L499.01,349.13 L499.33,349.59 L499.65,350.04 L499.95,350.50 L500.25,350.96 L500.55,351.41 L500.86,351.87 L501.16,352.32 L501.45,352.78 L501.73,353.23 L501.99,353.69 L502.23,354.14 L502.45,354.60 L502.65,355.06 L502.83,355.51 L502.99,355.97 L503.14,356.42 L503.27,356.88 L503.39,357.33 L503.49,357.79 L503.58,358.24 L503.65,358.70 L503.70,359.16 L503.74,359.61 L503.75,360.07 L503.75,360.52 L503.73,360.98 L503.71,361.43 L503.69,361.89 L503.67,362.34 L503.65,362.80 L503.63,363.26 L503.60,363.71 L503.57,364.17 L503.53,364.62 L503.49,365.08 L503.46,365.53 L503.43,365.99 L503.41,366.44 L503.40,366.90 L503.40,367.34 L503.42,367.79 L503.44,368.23 L503.47,368.67 L503.50,369.11 L503.52,369.56 L503.55,370.00 L503.58,370.48 L503.61,370.95 L503.65,371.43 L503.69,371.90 L503.72,372.38 L503.75,372.85 L503.76,373.32 L503.75,373.80 L503.72,374.26 L503.66,374.71 L503.59,375.17 L503.51,375.63 L503.44,376.09 L503.38,376.54 L503.35,377.00 L503.34,377.50 L503.34,378.00 L503.36,378.50 L503.39,379.00 L503.42,379.50 L503.45,380.00 L503.49,380.50 L503.52,381.00 L503.55,381.50 L503.58,381.99 L503.61,382.48 L503.65,382.97 L503.69,383.46 L503.72,383.94 L503.75,384.43 L503.77,384.92 L503.77,385.41 L503.75,385.90 L503.72,386.35 L503.69,386.80 L503.66,387.25 L503.60,387.70 L503.53,388.15 L503.44,388.60 L503.31,389.05 L503.15,389.50 L502.95,389.95 L502.70,390.40 L502.43,390.85 L502.13,391.30 L501.82,391.75 L501.49,392.20 L501.17,392.65 L500.85,393.10 L500.53,393.55 L500.18,394.00 L499.83,394.45 L499.47,394.90 L499.11,395.35 L498.77,395.80 L498.45,396.25 L498.15,396.70 L497.88,397.15 L497.63,397.60 L497.39,398.05 L497.16,398.50 L496.95,398.95 L496.75,399.40 L496.55,399.85 L496.35,400.30 L496.16,400.75 L495.97,401.20 L495.79,401.65 L495.63,402.10 L495.48,402.55 L495.35,403.00 L495.24,403.50 L495.20,404.00 L495.20,404.50 L495.20,405.00 L495.20,405.50 L495.20,406.00 L495.20,406.50 L495.20,407.00 L495.20,407.50 L495.20,408.00 L495.20,408.50 L495.20,409.00 L495.20,409.50 L495.20,410.00 L495.20,410.50 L495.20,411.00 L495.20,411.50 L495.20,412.00 L494.90,412.00 L494.90,411.50 L494.90,411.00 L494.90,410.50 L494.90,410.00 L494.90,409.50 L494.90,409.00 L494.90,408.50 L494.90,408.00 L494.90,407.50 L494.90,407.00 L494.90,406.50 L494.90,406.00 L494.90,405.50 L494.90,405.00 L494.90,404.50 L494.90,404.00 L494.86,403.50 L494.75,403.00 L494.62,402.55 L494.47,402.10 L494.31,401.65 L494.13,401.20 L493.94,400.75 L493.75,400.30 L493.55,399.85 L493.35,399.40 L493.15,398.95 L492.94,398.50 L492.71,398.05 L492.47,397.60 L492.22,397.15 L491.95,396.70 L491.65,396.25 L491.33,395.80 L490.99,395.35 L490.63,394.90 L490.27,394.45 L489.92,394.00 L489.57,393.55 L489.25,393.10 L488.93,392.65 L488.61,392.20 L488.28,391.75 L487.97,391.30 L487.67,390.85 L487.40,390.40 L487.15,389.95 L486.95,389.50 L486.79,389.05 L486.66,388.60 L486.57,388.15 L486.50,387.70 L486.44,387.25 L486.41,386.80 L486.38,386.35 L486.35,385.90 L486.33,385.41 L486.33,384.92 L486.35,384.43 L486.38,383.94 L486.41,383.46 L486.45,382.97 L486.49,382.48 L486.52,381.99 L486.55,381.50 L486.58,381.00 L486.61,380.50 L486.65,380.00 L486.68,379.50 L486.71,379.00 L486.74,378.50 L486.76,378.00 L486.76,377.50 L486.75,377.00 L486.72,376.54 L486.66,376.09 L486.59,375.63 L486.51,375.17 L486.44,374.71 L486.38,374.26 L486.35,373.80 L486.34,373.32 L486.35,372.85 L486.38,372.38 L486.41,371.90 L486.45,371.43 L486.49,370.95 L486.52,370.48 L486.55,370.00 L486.58,369.56 L486.60,369.11 L486.63,368.67 L486.66,368.23 L486.68,367.79 L486.70,367.34 L486.70,366.90 L486.69,366.44 L486.67,365.99 L486.64,365.53 L486.61,365.08 L486.57,364.62 L486.53,364.17 L486.50,363.71 L486.47,363.26 L486.45,362.80 L486.43,362.34 L486.41,361.89 L486.39,361.43 L486.37,360.98 L486.35,360.52 L486.35,360.07 L486.36,359.61 L486.40,359.16 L486.45,358.70 L486.52,358.24 L486.61,357.79 L486.71,357.33 L486.83,356.88 L486.96,356.42 L487.11,355.97 L487.27,355.51 L487.45,355.06 L487.65,354.60 L487.87,354.14 L488.11,353.69 L488.37,353.23 L488.65,352.78 L488.94,352.32 L489.24,351.87 L489.55,351.41 L489.85,350.96 L490.15,350.50 L490.45,350.04 L490.77,349.59 L491.09,349.13 L491.41,348.68 L491.73,348.22 L492.06,347.77 L492.38,347.31 L492.69,346.86 L493.00,346.40 L493.32,345.93 L493.66,345.46 L494.00,344.99 L494.33,344.51 L494.62,344.04 L494.87,343.57 L494.90,343.10 L494.90,342.61 L494.90,342.11 L494.90,341.62 L494.90,341.12 L494.90,340.63 L494.90,340.13 L494.90,339.64 L494.90,339.14 L494.90,338.65 L494.90,338.15 L494.90,337.66 L494.90,337.16 L494.90,336.67 L494.90,336.17 L494.90,335.68 L494.90,335.18 L494.90,334.69 L494.90,334.19 L494.90,333.70 Z" fill="#d6ddd9" stroke="#6c8479" stroke-width="1.45" stroke-linejoin="round"/>
<line x1="487.15" y1="373.8" x2="502.95" y2="373.8" stroke="#666" stroke-opacity="0.6" stroke-width="1.2" stroke-dasharray="1.8 2.2"/>

<text x="7.6" y="17.6" class="pl">A</text>
<text x="173.0" y="17.6" class="pl">B</text>
<text x="350.7" y="17.8" class="pl">C</text>
<text x="7.3" y="244.5" class="pl">D</text>
<text x="173.9" y="244.4" class="pl">E</text>
<text x="352.2" y="244.4" class="pl">F</text>
<line x1="58.0" y1="25.099999999999998" x2="58.0" y2="173.55" stroke="#1c1c1c" stroke-width="1.5"/>
<line x1="54.5" y1="172.8" x2="155" y2="172.8" stroke="#1c1c1c" stroke-width="1.5"/>
<line x1="54.5" y1="172.80" x2="58.0" y2="172.80" stroke="#1c1c1c" stroke-width="1.2"/>
<text x="50.60" y="175.80" text-anchor="end" class="tk">0</text>
<line x1="54.5" y1="143.88" x2="58.0" y2="143.88" stroke="#1c1c1c" stroke-width="1.2"/>
<text x="50.60" y="146.88" text-anchor="end" class="tk">10</text>
<line x1="54.5" y1="114.96" x2="58.0" y2="114.96" stroke="#1c1c1c" stroke-width="1.2"/>
<text x="50.60" y="117.96" text-anchor="end" class="tk">20</text>
<line x1="54.5" y1="86.04" x2="58.0" y2="86.04" stroke="#1c1c1c" stroke-width="1.2"/>
<text x="50.60" y="89.04" text-anchor="end" class="tk">30</text>
<line x1="54.5" y1="57.12" x2="58.0" y2="57.12" stroke="#1c1c1c" stroke-width="1.2"/>
<text x="50.60" y="60.12" text-anchor="end" class="tk">40</text>
<line x1="54.5" y1="28.20" x2="58.0" y2="28.20" stroke="#1c1c1c" stroke-width="1.2"/>
<text x="50.60" y="31.20" text-anchor="end" class="tk">50</text>
<line x1="85.8" y1="172.8" x2="85.8" y2="176.3" stroke="#1c1c1c" stroke-width="1.2"/>
<line x1="127" y1="172.8" x2="127" y2="176.3" stroke="#1c1c1c" stroke-width="1.2"/>
<path d="M85.8,44 V36 H127 V44" fill="none" stroke="#1c1c1c" stroke-width="1.3"/>
<text x="106.40" y="30.6" text-anchor="middle" class="ns">ns</text>
<text transform="translate(89.50,185.20) rotate(-45)" text-anchor="end" class="xl">Ref FL</text>
<text transform="translate(130.50,185.20) rotate(-45)" text-anchor="end" class="xl">All HRDE</text>
<text transform="translate(31,111.2) rotate(-90) scale(0.70,1)" class="yl"><tspan font-weight="bold" stroke-width="0">SUV</tspan><tspan class="sub" dy="2.2">max</tspan></text>
<line x1="235.8" y1="24.799999999999997" x2="235.8" y2="173.65" stroke="#1c1c1c" stroke-width="1.5"/>
<line x1="232.3" y1="172.9" x2="333.3" y2="172.9" stroke="#1c1c1c" stroke-width="1.5"/>
<line x1="232.3" y1="172.90" x2="235.8" y2="172.90" stroke="#1c1c1c" stroke-width="1.2"/>
<text x="228.40" y="175.90" text-anchor="end" class="tk">0</text>
<line x1="232.3" y1="143.90" x2="235.8" y2="143.90" stroke="#1c1c1c" stroke-width="1.2"/>
<text x="228.40" y="146.90" text-anchor="end" class="tk">1000</text>
<line x1="232.3" y1="114.90" x2="235.8" y2="114.90" stroke="#1c1c1c" stroke-width="1.2"/>
<text x="228.40" y="117.90" text-anchor="end" class="tk">2000</text>
<line x1="232.3" y1="85.90" x2="235.8" y2="85.90" stroke="#1c1c1c" stroke-width="1.2"/>
<text x="228.40" y="88.90" text-anchor="end" class="tk">3000</text>
<line x1="232.3" y1="56.90" x2="235.8" y2="56.90" stroke="#1c1c1c" stroke-width="1.2"/>
<text x="228.40" y="59.90" text-anchor="end" class="tk">4000</text>
<line x1="232.3" y1="27.90" x2="235.8" y2="27.90" stroke="#1c1c1c" stroke-width="1.2"/>
<text x="228.40" y="30.90" text-anchor="end" class="tk">5000</text>
<line x1="263.5" y1="172.9" x2="263.5" y2="176.4" stroke="#1c1c1c" stroke-width="1.2"/>
<line x1="304.5" y1="172.9" x2="304.5" y2="176.4" stroke="#1c1c1c" stroke-width="1.2"/>
<path d="M263.5,47.5 V39.2 H304.5 V47.5" fill="none" stroke="#1c1c1c" stroke-width="1.3"/>
<text x="284.00" y="34.4" text-anchor="middle" class="ns">ns</text>
<text transform="translate(267.10,185.20) rotate(-45)" text-anchor="end" class="xl">Ref FL</text>
<text transform="translate(308.10,185.20) rotate(-45)" text-anchor="end" class="xl">All HRDE</text>
<text transform="translate(200.2,118.2) rotate(-90) scale(0.64,1)" class="yl" font-weight="bold" stroke-width="0.1">TMTV</text>
<text transform="translate(200.2,97.60) rotate(-90) scale(0.83,1)" class="yl">(cm<tspan class="sup" dy="-4">3</tspan><tspan dy="4">)</tspan></text>
<line x1="415.1" y1="25.099999999999998" x2="415.1" y2="173.45" stroke="#1c1c1c" stroke-width="1.5"/>
<line x1="411.6" y1="172.7" x2="511.2" y2="172.7" stroke="#1c1c1c" stroke-width="1.5"/>
<line x1="411.6" y1="172.70" x2="415.1" y2="172.70" stroke="#1c1c1c" stroke-width="1.2"/>
<text x="407.70" y="175.70" text-anchor="end" class="tk">0</text>
<line x1="411.6" y1="124.53" x2="415.1" y2="124.53" stroke="#1c1c1c" stroke-width="1.2"/>
<text x="407.70" y="127.53" text-anchor="end" class="tk">10000</text>
<line x1="411.6" y1="76.36" x2="415.1" y2="76.36" stroke="#1c1c1c" stroke-width="1.2"/>
<text x="407.70" y="79.36" text-anchor="end" class="tk">20000</text>
<line x1="411.6" y1="28.19" x2="415.1" y2="28.19" stroke="#1c1c1c" stroke-width="1.2"/>
<text x="407.70" y="31.19" text-anchor="end" class="tk">30000</text>
<line x1="442.6" y1="172.7" x2="442.6" y2="176.2" stroke="#1c1c1c" stroke-width="1.2"/>
<line x1="483.8" y1="172.7" x2="483.8" y2="176.2" stroke="#1c1c1c" stroke-width="1.2"/>
<path d="M442.6,58 V51.1 H483.8 V58" fill="none" stroke="#1c1c1c" stroke-width="1.3"/>
<text x="463.20" y="45.2" text-anchor="middle" class="ns">ns</text>
<text transform="translate(446.20,185.20) rotate(-45)" text-anchor="end" class="xl">Ref FL</text>
<text transform="translate(487.40,185.20) rotate(-45)" text-anchor="end" class="xl">All HRDE</text>
<text transform="translate(373.3,138.7) rotate(-90)" class="yl" textLength="80.7" lengthAdjust="spacingAndGlyphs">Total Lesional Glycolysis</text>
<line x1="58.0" y1="267.2" x2="58.0" y2="416.15" stroke="#1c1c1c" stroke-width="1.5"/>
<line x1="54.5" y1="415.4" x2="155.4" y2="415.4" stroke="#1c1c1c" stroke-width="1.5"/>
<line x1="54.5" y1="415.40" x2="58.0" y2="415.40" stroke="#1c1c1c" stroke-width="1.2"/>
<text x="50.60" y="418.40" text-anchor="end" class="tk">0</text>
<line x1="54.5" y1="386.38" x2="58.0" y2="386.38" stroke="#1c1c1c" stroke-width="1.2"/>
<text x="50.60" y="389.38" text-anchor="end" class="tk">10</text>
<line x1="54.5" y1="357.36" x2="58.0" y2="357.36" stroke="#1c1c1c" stroke-width="1.2"/>
<text x="50.60" y="360.36" text-anchor="end" class="tk">20</text>
<line x1="54.5" y1="328.34" x2="58.0" y2="328.34" stroke="#1c1c1c" stroke-width="1.2"/>
<text x="50.60" y="331.34" text-anchor="end" class="tk">30</text>
<line x1="54.5" y1="299.32" x2="58.0" y2="299.32" stroke="#1c1c1c" stroke-width="1.2"/>
<text x="50.60" y="302.32" text-anchor="end" class="tk">40</text>
<line x1="54.5" y1="270.30" x2="58.0" y2="270.30" stroke="#1c1c1c" stroke-width="1.2"/>
<text x="50.60" y="273.30" text-anchor="end" class="tk">50</text>
<line x1="77.3" y1="415.4" x2="77.3" y2="418.9" stroke="#1c1c1c" stroke-width="1.2"/>
<line x1="106.4" y1="415.4" x2="106.4" y2="418.9" stroke="#1c1c1c" stroke-width="1.2"/>
<line x1="135.5" y1="415.4" x2="135.5" y2="418.9" stroke="#1c1c1c" stroke-width="1.2"/>
<path d="M76.8,259.5 V251.8 H136 V259.5" fill="none" stroke="#1c1c1c" stroke-width="1.3"/>
<circle cx="106.20" cy="246.5" r="1.15" fill="#111"/>
<path d="M76.8,286.4 V279 H103.4 V286.4" fill="none" stroke="#1c1c1c" stroke-width="1.3"/>
<text x="90.10" y="273" text-anchor="middle" class="ns">ns</text>
<path d="M109.3,286.4 V279 H136 V286.4" fill="none" stroke="#1c1c1c" stroke-width="1.3"/>
<text x="122.65" y="273" text-anchor="middle" class="ns">ns</text>
<text transform="translate(80.70,428.00) rotate(-45)" text-anchor="end" class="xl">Base FL</text>
<text transform="translate(109.80,428.00) rotate(-45)" text-anchor="end" class="xl">FL24</text>
<text transform="translate(138.90,428.00) rotate(-45)" text-anchor="end" class="xl">Early tFL</text>
<text transform="translate(30.8,355.5) rotate(-90) scale(0.70,1)" class="yl"><tspan font-weight="bold" stroke-width="0">SUV</tspan><tspan class="sub" dy="2.2">max</tspan></text>
<line x1="235.9" y1="267.09999999999997" x2="235.9" y2="416.25" stroke="#1c1c1c" stroke-width="1.5"/>
<line x1="232.4" y1="415.5" x2="332.5" y2="415.5" stroke="#1c1c1c" stroke-width="1.5"/>
<line x1="232.4" y1="415.50" x2="235.9" y2="415.50" stroke="#1c1c1c" stroke-width="1.2"/>
<text x="228.50" y="418.50" text-anchor="end" class="tk">0</text>
<line x1="232.4" y1="386.44" x2="235.9" y2="386.44" stroke="#1c1c1c" stroke-width="1.2"/>
<text x="228.50" y="389.44" text-anchor="end" class="tk">1000</text>
<line x1="232.4" y1="357.38" x2="235.9" y2="357.38" stroke="#1c1c1c" stroke-width="1.2"/>
<text x="228.50" y="360.38" text-anchor="end" class="tk">2000</text>
<line x1="232.4" y1="328.32" x2="235.9" y2="328.32" stroke="#1c1c1c" stroke-width="1.2"/>
<text x="228.50" y="331.32" text-anchor="end" class="tk">3000</text>
<line x1="232.4" y1="299.26" x2="235.9" y2="299.26" stroke="#1c1c1c" stroke-width="1.2"/>
<text x="228.50" y="302.26" text-anchor="end" class="tk">4000</text>
<line x1="232.4" y1="270.20" x2="235.9" y2="270.20" stroke="#1c1c1c" stroke-width="1.2"/>
<text x="228.50" y="273.20" text-anchor="end" class="tk">5000</text>
<line x1="255.2" y1="415.5" x2="255.2" y2="419.0" stroke="#1c1c1c" stroke-width="1.2"/>
<line x1="284.4" y1="415.5" x2="284.4" y2="419.0" stroke="#1c1c1c" stroke-width="1.2"/>
<line x1="313.2" y1="415.5" x2="313.2" y2="419.0" stroke="#1c1c1c" stroke-width="1.2"/>
<path d="M254.6,260.8 V253.1 H313.7 V260.8" fill="none" stroke="#1c1c1c" stroke-width="1.3"/>
<circle cx="284.40" cy="247.7" r="1.15" fill="#111"/>
<path d="M254.6,291.5 V283.8 H281.5 V291.5" fill="none" stroke="#1c1c1c" stroke-width="1.3"/>
<text x="268.05" y="277.5" text-anchor="middle" class="ns">ns</text>
<path d="M286.9,291.5 V283.8 H313.7 V291.5" fill="none" stroke="#1c1c1c" stroke-width="1.3"/>
<text x="300.30" y="277.5" text-anchor="middle" class="ns">ns</text>
<text transform="translate(258.80,428.00) rotate(-45)" text-anchor="end" class="xl">Base FL</text>
<text transform="translate(288.00,428.00) rotate(-45)" text-anchor="end" class="xl">FL24</text>
<text transform="translate(316.80,428.00) rotate(-45)" text-anchor="end" class="xl">Early tFL</text>
<text transform="translate(200.0,362.2) rotate(-90) scale(0.64,1)" class="yl" font-weight="bold" stroke-width="0.1">TMTV</text>
<text transform="translate(200.0,341.60) rotate(-90) scale(0.83,1)" class="yl">(cm<tspan class="sup" dy="-4">3</tspan><tspan dy="4">)</tspan></text>
<line x1="415.1" y1="267.2" x2="415.1" y2="416.2" stroke="#1c1c1c" stroke-width="1.5"/>
<line x1="411.6" y1="415.45" x2="512.5" y2="415.45" stroke="#1c1c1c" stroke-width="1.5"/>
<line x1="411.6" y1="415.50" x2="415.1" y2="415.50" stroke="#1c1c1c" stroke-width="1.2"/>
<text x="407.70" y="418.50" text-anchor="end" class="tk">0</text>
<line x1="411.6" y1="367.10" x2="415.1" y2="367.10" stroke="#1c1c1c" stroke-width="1.2"/>
<text x="407.70" y="370.10" text-anchor="end" class="tk">10000</text>
<line x1="411.6" y1="318.70" x2="415.1" y2="318.70" stroke="#1c1c1c" stroke-width="1.2"/>
<text x="407.70" y="321.70" text-anchor="end" class="tk">20000</text>
<line x1="411.6" y1="270.30" x2="415.1" y2="270.30" stroke="#1c1c1c" stroke-width="1.2"/>
<text x="407.70" y="273.30" text-anchor="end" class="tk">30000</text>
<line x1="435" y1="415.45" x2="435" y2="418.95" stroke="#1c1c1c" stroke-width="1.2"/>
<line x1="465" y1="415.45" x2="465" y2="418.95" stroke="#1c1c1c" stroke-width="1.2"/>
<line x1="495" y1="415.45" x2="495" y2="418.95" stroke="#1c1c1c" stroke-width="1.2"/>
<path d="M436.1,274.2 V266.5 H495.4 V274.2" fill="none" stroke="#1c1c1c" stroke-width="1.3"/>
<circle cx="463.80" cy="261.3" r="1.15" fill="#111"/>
<circle cx="467.60" cy="261.3" r="1.15" fill="#111"/>
<path d="M436.1,301.2 V293.9 H462.4 V301.2" fill="none" stroke="#1c1c1c" stroke-width="1.3"/>
<text x="449.25" y="287.7" text-anchor="middle" class="ns">ns</text>
<path d="M468.4,301.2 V293.9 H495.5 V301.2" fill="none" stroke="#1c1c1c" stroke-width="1.3"/>
<circle cx="481.80" cy="285" r="1.15" fill="#111"/>
<text transform="translate(438.60,428.00) rotate(-45)" text-anchor="end" class="xl">Base FL</text>
<text transform="translate(468.60,428.00) rotate(-45)" text-anchor="end" class="xl">FL24</text>
<text transform="translate(498.60,428.00) rotate(-45)" text-anchor="end" class="xl">Early tFL</text>
<text transform="translate(373.1,380.6) rotate(-90)" class="yl" textLength="81.6" lengthAdjust="spacingAndGlyphs">Total Lesional Glycolysis</text>

<text x="58" y="481" class="cap" textLength="443.5" lengthAdjust="spacingAndGlyphs">Comparison of A, B, C by Mann Whitney, Comparison of D, E, F by Ordinary One-Way ANOVA adjusted using</text>
<text x="58" y="492" class="cap" textLength="449.8" lengthAdjust="spacingAndGlyphs">Holm-Sidak multiple comparisons test. Dashed horizontal lines represent median and interquartile range. ns = no</text>
<text x="58" y="503" class="cap">significance, * <tspan font-style="italic">P</tspan> &lt; .05 ** <tspan font-style="italic">P</tspan> &lt; .005</text>

<rect x="0.5" y="0.5" width="519" height="512" fill="none" stroke="#3a3a3a" stroke-width="1"/>
</svg>
</body></html>
